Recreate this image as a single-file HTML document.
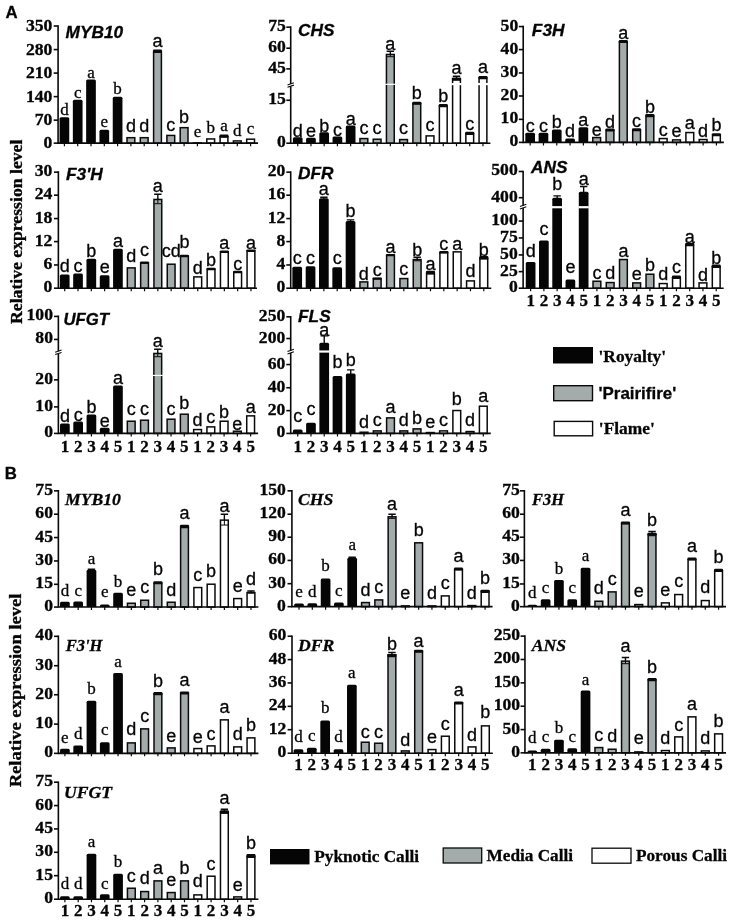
<!DOCTYPE html>
<html><head><meta charset="utf-8"><title>Figure</title>
<style>
html,body{margin:0;padding:0;background:#fff;}
svg{display:block;}
text{fill:#050505;stroke:#050505;stroke-width:.3px;}
.ls,.ln{stroke-width:.3px;}
.yl{font:bold 16.5px "Liberation Serif",serif;text-anchor:end;}
.xl{font:bold 17px "Liberation Serif",serif;text-anchor:middle;}
.ls{font:17px "Liberation Serif",serif;text-anchor:middle;}
.ln{font:18px "Liberation Sans",sans-serif;text-anchor:middle;}
.tn{font:italic bold 16px "Liberation Sans",sans-serif;}
.ts{font:italic bold 16.8px "Liberation Serif",serif;}
.pl{font:bold 16.8px "Liberation Sans",sans-serif;}
.yax{font:bold 16px "Liberation Serif",serif;}
.lgs{font:bold 17.4px "Liberation Serif",serif;}
.lgn{font:bold 17.2px "Liberation Sans",sans-serif;}
.lgb{font:bold 16.9px "Liberation Serif",serif;}
</style></head>
<body>
<svg width="731" height="920" viewBox="0 0 731 920" style="will-change:transform;filter:blur(0.45px)">
<rect width="731" height="920" fill="#fff"/>
<g id="A1">
<path d="M59.55 143.15V118.66Q59.55 117.16 61.05 117.16H67.75Q69.25 117.16 69.25 118.66V143.15Z" fill="#050505"/>
<path d="M72.85 143.15V101.14Q72.85 99.64 74.35 99.64H81.05Q82.55 99.64 82.55 101.14V143.15Z" fill="#050505"/>
<path d="M86.15 143.15V81.11Q86.15 79.61 87.65 79.61H94.35Q95.85 79.61 95.85 81.11V143.15Z" fill="#050505"/>
<path d="M99.45 143.15V131.18Q99.45 129.68 100.95 129.68H107.65Q109.15 129.68 109.15 131.18V143.15Z" fill="#050505"/>
<path d="M112.75 143.15V98.13Q112.75 96.63 114.25 96.63H120.95Q122.45 96.63 122.45 98.13V143.15Z" fill="#050505"/>
<rect x="127" y="137.69" width="7.8" height="5.46" fill="#a4acab" stroke="#0a0a0a" stroke-width="1.5"/>
<rect x="140.3" y="137.69" width="7.8" height="5.46" fill="#a4acab" stroke="#0a0a0a" stroke-width="1.5"/>
<rect x="153.6" y="52.07" width="7.8" height="91.08" fill="#a4acab" stroke="#0a0a0a" stroke-width="1.5"/>
<rect x="152.95" y="49.57" width="9.1" height="3.55" rx="1.2" fill="#0a0a0a"/>
<rect x="166.9" y="135.43" width="7.8" height="7.71" fill="#a4acab" stroke="#0a0a0a" stroke-width="1.5"/>
<rect x="180.2" y="127.67" width="7.8" height="15.47" fill="#a4acab" stroke="#0a0a0a" stroke-width="1.5"/>
<rect x="193.5" y="142.94" width="7.8" height="0.3" fill="#fff" stroke="#0a0a0a" stroke-width="1.5"/>
<rect x="206.8" y="138.94" width="7.8" height="4.21" fill="#fff" stroke="#0a0a0a" stroke-width="1.5"/>
<rect x="220.1" y="136.69" width="7.8" height="6.46" fill="#fff" stroke="#0a0a0a" stroke-width="1.5"/>
<rect x="219.45" y="134.43" width="9.1" height="3.3" rx="1.2" fill="#0a0a0a"/>
<rect x="233.4" y="140.94" width="7.8" height="2.2" fill="#fff" stroke="#0a0a0a" stroke-width="1.5"/>
<rect x="246.7" y="139.19" width="7.8" height="3.96" fill="#fff" stroke="#0a0a0a" stroke-width="1.5"/>
<path d="M58.08 25.23V143.95M57.28 143.15H258.05" stroke="#0a0a0a" stroke-width="1.6" fill="none"/>
<path d="M53.68 26.03H58.08" stroke="#0a0a0a" stroke-width="1.6"/>
<text transform="translate(52.38 31.21) scale(1.07 1)" class="yl">350</text>
<path d="M53.68 49.57H58.08" stroke="#0a0a0a" stroke-width="1.6"/>
<text transform="translate(52.38 54.74) scale(1.07 1)" class="yl">280</text>
<path d="M53.68 73.1H58.08" stroke="#0a0a0a" stroke-width="1.6"/>
<text transform="translate(52.38 78.28) scale(1.07 1)" class="yl">210</text>
<path d="M53.68 96.63H58.08" stroke="#0a0a0a" stroke-width="1.6"/>
<text transform="translate(52.38 101.81) scale(1.07 1)" class="yl">140</text>
<path d="M53.68 120.16H58.08" stroke="#0a0a0a" stroke-width="1.6"/>
<text transform="translate(52.38 125.34) scale(1.07 1)" class="yl">70</text>
<path d="M53.68 143.15H58.08" stroke="#0a0a0a" stroke-width="1.6"/>
<text transform="translate(52.38 148.32) scale(1.07 1)" class="yl">0</text>
<path d="M64.4 143.15V146.15M77.7 143.15V146.15M91 143.15V146.15M104.3 143.15V146.15M117.6 143.15V146.15M130.9 143.15V146.15M144.2 143.15V146.15M157.5 143.15V146.15M170.8 143.15V146.15M184.1 143.15V146.15M197.4 143.15V146.15M210.7 143.15V146.15M224 143.15V146.15M237.3 143.15V146.15M250.6 143.15V146.15" stroke="#0a0a0a" stroke-width="1.2" fill="none"/>
<text transform="translate(64.4 115.06) scale(1.0 1)" class="ls">d</text>
<text transform="translate(77.7 97.53) scale(1.0 1)" class="ls">c</text>
<text transform="translate(91 77.51) scale(1.0 1)" class="ls">a</text>
<text transform="translate(104.3 127.32) scale(1.0 1)" class="ls">e</text>
<text transform="translate(117.6 94.28) scale(1.0 1)" class="ls">b</text>
<text transform="translate(130.9 132.33) scale(1.0 1)" class="ln">d</text>
<text transform="translate(144.2 132.33) scale(1.0 1)" class="ln">d</text>
<text transform="translate(157.5 46.96) scale(1.0 1)" class="ln">a</text>
<text transform="translate(170.8 130.58) scale(1.0 1)" class="ln">c</text>
<text transform="translate(184.1 123.07) scale(1.0 1)" class="ln">b</text>
<text transform="translate(197.4 137.34) scale(1.0 1)" class="ls">e</text>
<text transform="translate(210.7 133.08) scale(1.0 1)" class="ls">b</text>
<text transform="translate(224 131.08) scale(1.0 1)" class="ls">a</text>
<text transform="translate(237.3 136.09) scale(1.0 1)" class="ls">d</text>
<text transform="translate(250.6 133.96) scale(1.0 1)" class="ls">c</text>
<text transform="translate(65.59 38.4) scale(1.08 1)" class="tn">MYB10</text>
</g>
<g id="A2">
<path d="M292.87 143.19V138.65Q292.87 137.15 294.37 137.15H301.07Q302.57 137.15 302.57 138.65V143.19Z" fill="#050505"/>
<path d="M306.1 143.19V139.32Q306.1 137.82 307.6 137.82H314.3Q315.8 137.82 315.8 139.32V143.19Z" fill="#050505"/>
<path d="M319.33 143.19V133.64Q319.33 132.14 320.83 132.14H327.53Q329.03 132.14 329.03 133.64V143.19Z" fill="#050505"/>
<path d="M332.56 143.19V137.98Q332.56 136.48 334.06 136.48H340.76Q342.26 136.48 342.26 137.98V143.19Z" fill="#050505"/>
<path d="M345.79 143.19V126.97Q345.79 125.47 347.29 125.47H353.99Q355.49 125.47 355.49 126.97V143.19Z" fill="#050505"/>
<rect x="359.98" y="138.57" width="7.8" height="4.62" fill="#a4acab" stroke="#0a0a0a" stroke-width="1.5"/>
<rect x="373.21" y="139.23" width="7.8" height="3.95" fill="#a4acab" stroke="#0a0a0a" stroke-width="1.5"/>
<rect x="386.44" y="54.45" width="7.8" height="88.74" fill="#a4acab" stroke="#0a0a0a" stroke-width="1.5"/>
<path d="M390.34 54.2V50.7M386.64 51.2H394.04" stroke="#0a0a0a" stroke-width="1.4" fill="none"/>
<path d="M390.34 53.7V56.7M386.64 56.7H394.04" stroke="#0a0a0a" stroke-width="1" fill="none"/>
<rect x="399.67" y="139.57" width="7.8" height="3.62" fill="#a4acab" stroke="#0a0a0a" stroke-width="1.5"/>
<rect x="412.91" y="103.52" width="7.8" height="39.67" fill="#a4acab" stroke="#0a0a0a" stroke-width="1.5"/>
<rect x="412.26" y="101.77" width="9.1" height="3.1" rx="1.2" fill="#0a0a0a"/>
<rect x="426.14" y="135.9" width="7.8" height="7.29" fill="#fff" stroke="#0a0a0a" stroke-width="1.5"/>
<rect x="439.37" y="105.85" width="7.8" height="37.33" fill="#fff" stroke="#0a0a0a" stroke-width="1.5"/>
<rect x="438.72" y="104.1" width="9.1" height="3.1" rx="1.2" fill="#0a0a0a"/>
<rect x="452.6" y="78.48" width="7.8" height="64.7" fill="#fff" stroke="#0a0a0a" stroke-width="1.5"/>
<rect x="451.95" y="77.73" width="9.1" height="3.1" rx="1.2" fill="#0a0a0a"/>
<path d="M456.5 78.23V75.73M452.8 76.23H460.2" stroke="#0a0a0a" stroke-width="1.4" fill="none"/>
<path d="M456.5 77.73V79.74M452.8 79.74H460.2" stroke="#0a0a0a" stroke-width="1" fill="none"/>
<rect x="465.84" y="133.56" width="7.8" height="9.63" fill="#fff" stroke="#0a0a0a" stroke-width="1.5"/>
<rect x="465.19" y="131.81" width="9.1" height="3.1" rx="1.2" fill="#0a0a0a"/>
<rect x="479.07" y="77.82" width="7.8" height="65.37" fill="#fff" stroke="#0a0a0a" stroke-width="1.5"/>
<rect x="478.42" y="76.06" width="9.1" height="3.1" rx="1.2" fill="#0a0a0a"/>
<rect x="385.39" y="83.71" width="9.9" height="1.2" fill="#fff"/>
<rect x="451.35" y="83.01" width="10.3" height="2.2" fill="#fff"/>
<rect x="477.82" y="83.01" width="10.3" height="2.2" fill="#fff"/>
<path d="M290.71 26.36V143.99M289.91 143.19H490.42" stroke="#0a0a0a" stroke-width="1.6" fill="none"/>
<rect x="288.71" y="83.91" width="4" height="2.4" fill="#fff"/>
<path d="M287.51 84.91L293.91 82.71M287.51 87.31L293.91 85.11" stroke="#0a0a0a" stroke-width="1.1" fill="none"/>
<path d="M286.31 27.16H290.71" stroke="#0a0a0a" stroke-width="1.6"/>
<text transform="translate(285.81 31.14) scale(1.07 1)" class="yl">75</text>
<path d="M286.31 48.19H290.71" stroke="#0a0a0a" stroke-width="1.6"/>
<text transform="translate(285.81 52.17) scale(1.07 1)" class="yl">60</text>
<path d="M286.31 68.89H290.71" stroke="#0a0a0a" stroke-width="1.6"/>
<text transform="translate(285.81 72.86) scale(1.07 1)" class="yl">45</text>
<path d="M286.31 100.26H290.71" stroke="#0a0a0a" stroke-width="1.6"/>
<text transform="translate(285.81 104.24) scale(1.07 1)" class="yl">15</text>
<path d="M286.31 143.19H290.71" stroke="#0a0a0a" stroke-width="1.6"/>
<text transform="translate(285.81 147.16) scale(1.07 1)" class="yl">0</text>
<path d="M297.72 143.19V146.19M310.95 143.19V146.19M324.18 143.19V146.19M337.41 143.19V146.19M350.64 143.19V146.19M363.88 143.19V146.19M377.11 143.19V146.19M390.34 143.19V146.19M403.57 143.19V146.19M416.81 143.19V146.19M430.04 143.19V146.19M443.27 143.19V146.19M456.5 143.19V146.19M469.74 143.19V146.19M482.97 143.19V146.19" stroke="#0a0a0a" stroke-width="1.2" fill="none"/>
<text transform="translate(297.72 136.58) scale(1.0 1)" class="ln">d</text>
<text transform="translate(310.95 136.58) scale(1.0 1)" class="ln">e</text>
<text transform="translate(324.18 131.57) scale(1.0 1)" class="ln">b</text>
<text transform="translate(337.41 135.91) scale(1.0 1)" class="ln">c</text>
<text transform="translate(350.64 124.9) scale(1.0 1)" class="ln">a</text>
<text transform="translate(363.88 133.91) scale(1.0 1)" class="ln">c</text>
<text transform="translate(377.11 133.91) scale(1.0 1)" class="ln">c</text>
<text transform="translate(390.34 50.46) scale(1.0 1)" class="ln">a</text>
<text transform="translate(403.57 134.24) scale(1.0 1)" class="ln">c</text>
<text transform="translate(416.81 98.86) scale(1.0 1)" class="ln">b</text>
<text transform="translate(430.04 131.24) scale(1.0 1)" class="ln">c</text>
<text transform="translate(443.27 102.2) scale(1.0 1)" class="ln">b</text>
<text transform="translate(456.5 74.49) scale(1.0 1)" class="ln">a</text>
<text transform="translate(469.74 129.57) scale(1.0 1)" class="ln">c</text>
<text transform="translate(482.97 73.16) scale(1.0 1)" class="ln">a</text>
<text transform="translate(298.05 35.81) scale(1.08 1)" class="tn">CHS</text>
</g>
<g id="A3">
<path d="M525.31 142.39V134.31Q525.31 132.81 526.81 132.81H533.51Q535.01 132.81 535.01 134.31V142.39Z" fill="#050505"/>
<path d="M538.61 142.39V134.31Q538.61 132.81 540.11 132.81H546.81Q548.31 132.81 548.31 134.31V142.39Z" fill="#050505"/>
<path d="M551.92 142.39V130.97Q551.92 129.47 553.42 129.47H560.12Q561.62 129.47 561.62 130.97V142.39Z" fill="#050505"/>
<path d="M565.22 142.39V139.98Q565.22 138.48 566.72 138.48H573.42Q574.92 138.48 574.92 139.98V142.39Z" fill="#050505"/>
<path d="M578.52 142.39V128.63Q578.52 127.13 580.02 127.13H586.72Q588.22 127.13 588.22 128.63V142.39Z" fill="#050505"/>
<rect x="592.78" y="137.56" width="7.8" height="4.82" fill="#a4acab" stroke="#0a0a0a" stroke-width="1.5"/>
<rect x="606.08" y="130.22" width="7.8" height="12.17" fill="#a4acab" stroke="#0a0a0a" stroke-width="1.5"/>
<rect x="605.43" y="128.47" width="9.1" height="3.1" rx="1.2" fill="#0a0a0a"/>
<rect x="619.39" y="41.77" width="7.8" height="100.62" fill="#a4acab" stroke="#0a0a0a" stroke-width="1.5"/>
<rect x="618.74" y="40.02" width="9.1" height="3.1" rx="1.2" fill="#0a0a0a"/>
<rect x="632.69" y="129.89" width="7.8" height="12.5" fill="#a4acab" stroke="#0a0a0a" stroke-width="1.5"/>
<rect x="632.04" y="128.14" width="9.1" height="3.1" rx="1.2" fill="#0a0a0a"/>
<rect x="645.99" y="116.1" width="7.8" height="26.29" fill="#a4acab" stroke="#0a0a0a" stroke-width="1.5"/>
<rect x="645.34" y="114.12" width="9.1" height="3.1" rx="1.2" fill="#0a0a0a"/>
<rect x="659.3" y="138.57" width="7.8" height="3.82" fill="#fff" stroke="#0a0a0a" stroke-width="1.5"/>
<rect x="672.6" y="139.9" width="7.8" height="2.49" fill="#fff" stroke="#0a0a0a" stroke-width="1.5"/>
<rect x="685.91" y="132.56" width="7.8" height="9.83" fill="#fff" stroke="#0a0a0a" stroke-width="1.5"/>
<rect x="699.21" y="139.57" width="7.8" height="2.82" fill="#fff" stroke="#0a0a0a" stroke-width="1.5"/>
<rect x="712.51" y="134.89" width="7.8" height="7.49" fill="#fff" stroke="#0a0a0a" stroke-width="1.5"/>
<rect x="711.86" y="133.14" width="9.1" height="3.1" rx="1.2" fill="#0a0a0a"/>
<path d="M523.22 25.76V143.19M522.42 142.39H723.86" stroke="#0a0a0a" stroke-width="1.6" fill="none"/>
<path d="M518.82 26.56H523.22" stroke="#0a0a0a" stroke-width="1.6"/>
<text transform="translate(518.22 30.54) scale(1.07 1)" class="yl">50</text>
<path d="M518.82 49.59H523.22" stroke="#0a0a0a" stroke-width="1.6"/>
<text transform="translate(518.22 53.57) scale(1.07 1)" class="yl">40</text>
<path d="M518.82 72.96H523.22" stroke="#0a0a0a" stroke-width="1.6"/>
<text transform="translate(518.22 76.94) scale(1.07 1)" class="yl">30</text>
<path d="M518.82 95.99H523.22" stroke="#0a0a0a" stroke-width="1.6"/>
<text transform="translate(518.22 99.97) scale(1.07 1)" class="yl">20</text>
<path d="M518.82 119.36H523.22" stroke="#0a0a0a" stroke-width="1.6"/>
<text transform="translate(518.22 123.33) scale(1.07 1)" class="yl">10</text>
<path d="M518.82 142.39H523.22" stroke="#0a0a0a" stroke-width="1.6"/>
<text transform="translate(518.22 146.36) scale(1.07 1)" class="yl">0</text>
<path d="M530.16 142.39V145.39M543.46 142.39V145.39M556.77 142.39V145.39M570.07 142.39V145.39M583.37 142.39V145.39M596.68 142.39V145.39M609.98 142.39V145.39M623.29 142.39V145.39M636.59 142.39V145.39M649.89 142.39V145.39M663.2 142.39V145.39M676.5 142.39V145.39M689.81 142.39V145.39M703.11 142.39V145.39M716.41 142.39V145.39" stroke="#0a0a0a" stroke-width="1.2" fill="none"/>
<text transform="translate(530.16 131.57) scale(1.0 1)" class="ln">c</text>
<text transform="translate(543.46 131.57) scale(1.0 1)" class="ln">c</text>
<text transform="translate(556.77 128.23) scale(1.0 1)" class="ln">b</text>
<text transform="translate(570.07 137.25) scale(1.0 1)" class="ln">d</text>
<text transform="translate(583.37 125.9) scale(1.0 1)" class="ln">a</text>
<text transform="translate(596.68 135.91) scale(1.0 1)" class="ln">e</text>
<text transform="translate(609.98 127.57) scale(1.0 1)" class="ln">d</text>
<text transform="translate(623.29 38.61) scale(1.0 1)" class="ln">a</text>
<text transform="translate(636.59 126.56) scale(1.0 1)" class="ln">c</text>
<text transform="translate(649.89 112.55) scale(1.0 1)" class="ln">b</text>
<text transform="translate(663.2 135.91) scale(1.0 1)" class="ln">c</text>
<text transform="translate(676.5 137.25) scale(1.0 1)" class="ln">e</text>
<text transform="translate(689.81 129.23) scale(1.0 1)" class="ln">a</text>
<text transform="translate(703.11 137.25) scale(1.0 1)" class="ln">d</text>
<text transform="translate(716.41 131.1) scale(1.0 1)" class="ln">b</text>
<text transform="translate(531.86 35.58) scale(1.08 1)" class="tn">F3H</text>
</g>
<g id="A4">
<path d="M59.86 288.19V275.97Q59.86 274.47 61.36 274.47H68.06Q69.56 274.47 69.56 275.97V288.19Z" fill="#050505"/>
<path d="M73.17 288.19V274.97Q73.17 273.47 74.67 273.47H81.37Q82.87 273.47 82.87 274.97V288.19Z" fill="#050505"/>
<path d="M86.47 288.19V260.28Q86.47 258.78 87.97 258.78H94.67Q96.17 258.78 96.17 260.28V288.19Z" fill="#050505"/>
<path d="M99.78 288.19V276.64Q99.78 275.14 101.28 275.14H107.98Q109.48 275.14 109.48 276.64V288.19Z" fill="#050505"/>
<path d="M113.08 288.19V250.27Q113.08 248.77 114.58 248.77H121.28Q122.78 248.77 122.78 250.27V288.19Z" fill="#050505"/>
<rect x="127.33" y="267.88" width="7.8" height="20.31" fill="#a4acab" stroke="#0a0a0a" stroke-width="1.5"/>
<rect x="140.64" y="262.87" width="7.8" height="25.32" fill="#a4acab" stroke="#0a0a0a" stroke-width="1.5"/>
<rect x="139.99" y="261.45" width="9.1" height="2.47" rx="1.2" fill="#0a0a0a"/>
<rect x="153.94" y="199.45" width="7.8" height="88.74" fill="#a4acab" stroke="#0a0a0a" stroke-width="1.5"/>
<path d="M157.84 199.2V193.69M154.14 194.19H161.54" stroke="#0a0a0a" stroke-width="1.4" fill="none"/>
<path d="M157.84 198.7V203.71M154.14 203.71H161.54" stroke="#0a0a0a" stroke-width="1" fill="none"/>
<rect x="167.25" y="264.21" width="7.8" height="23.98" fill="#a4acab" stroke="#0a0a0a" stroke-width="1.5"/>
<rect x="180.55" y="256.2" width="7.8" height="31.99" fill="#a4acab" stroke="#0a0a0a" stroke-width="1.5"/>
<rect x="179.9" y="254.78" width="9.1" height="2.47" rx="1.2" fill="#0a0a0a"/>
<rect x="193.85" y="276.89" width="7.8" height="11.3" fill="#fff" stroke="#0a0a0a" stroke-width="1.5"/>
<rect x="207.16" y="269.21" width="7.8" height="18.97" fill="#fff" stroke="#0a0a0a" stroke-width="1.5"/>
<rect x="206.51" y="267.8" width="9.1" height="2.47" rx="1.2" fill="#0a0a0a"/>
<rect x="220.46" y="251.86" width="7.8" height="36.33" fill="#fff" stroke="#0a0a0a" stroke-width="1.5"/>
<rect x="219.81" y="250.44" width="9.1" height="2.47" rx="1.2" fill="#0a0a0a"/>
<rect x="233.76" y="272.22" width="7.8" height="15.97" fill="#fff" stroke="#0a0a0a" stroke-width="1.5"/>
<rect x="233.11" y="270.8" width="9.1" height="2.47" rx="1.2" fill="#0a0a0a"/>
<rect x="247.07" y="250.85" width="7.8" height="37.33" fill="#fff" stroke="#0a0a0a" stroke-width="1.5"/>
<rect x="246.42" y="249.44" width="9.1" height="2.47" rx="1.2" fill="#0a0a0a"/>
<path d="M58.37 171.36V288.99M57.57 288.19H257.02" stroke="#0a0a0a" stroke-width="1.6" fill="none"/>
<path d="M53.97 172.16H58.37" stroke="#0a0a0a" stroke-width="1.6"/>
<text transform="translate(52.37 176.14) scale(1.07 1)" class="yl">30</text>
<path d="M53.97 195.19H58.37" stroke="#0a0a0a" stroke-width="1.6"/>
<text transform="translate(52.37 199.17) scale(1.07 1)" class="yl">24</text>
<path d="M53.97 218.56H58.37" stroke="#0a0a0a" stroke-width="1.6"/>
<text transform="translate(52.37 222.54) scale(1.07 1)" class="yl">18</text>
<path d="M53.97 241.59H58.37" stroke="#0a0a0a" stroke-width="1.6"/>
<text transform="translate(52.37 245.57) scale(1.07 1)" class="yl">12</text>
<path d="M53.97 264.96H58.37" stroke="#0a0a0a" stroke-width="1.6"/>
<text transform="translate(52.37 268.93) scale(1.07 1)" class="yl">6</text>
<path d="M53.97 288.19H58.37" stroke="#0a0a0a" stroke-width="1.6"/>
<text transform="translate(52.37 292.16) scale(1.07 1)" class="yl">0</text>
<path d="M64.71 288.19V291.19M78.02 288.19V291.19M91.32 288.19V291.19M104.63 288.19V291.19M117.93 288.19V291.19M131.23 288.19V291.19M144.54 288.19V291.19M157.84 288.19V291.19M171.15 288.19V291.19M184.45 288.19V291.19M197.75 288.19V291.19M211.06 288.19V291.19M224.36 288.19V291.19M237.66 288.19V291.19M250.97 288.19V291.19" stroke="#0a0a0a" stroke-width="1.2" fill="none"/>
<text transform="translate(64.71 272.23) scale(1.0 1)" class="ln">d</text>
<text transform="translate(78.02 272.23) scale(1.0 1)" class="ln">c</text>
<text transform="translate(91.32 256.54) scale(1.0 1)" class="ln">b</text>
<text transform="translate(104.63 273.23) scale(1.0 1)" class="ln">e</text>
<text transform="translate(117.93 246.53) scale(1.0 1)" class="ln">a</text>
<text transform="translate(131.23 261.55) scale(1.0 1)" class="ln">d</text>
<text transform="translate(144.54 255.54) scale(1.0 1)" class="ln">c</text>
<text transform="translate(157.84 191.79) scale(1.0 1)" class="ln">a</text>
<text transform="translate(171.15 256.54) scale(1.0 1)" class="ln">cd</text>
<text transform="translate(184.45 248.2) scale(1.0 1)" class="ln">b</text>
<text transform="translate(197.75 274.23) scale(1.0 1)" class="ln">d</text>
<text transform="translate(211.06 265.56) scale(1.0 1)" class="ln">b</text>
<text transform="translate(224.36 249) scale(1.0 1)" class="ln">a</text>
<text transform="translate(237.66 269.9) scale(1.0 1)" class="ln">c</text>
<text transform="translate(250.97 249) scale(1.0 1)" class="ln">a</text>
<text transform="translate(66.05 180.07) scale(1.08 1)" class="tn">F3&#39;H</text>
</g>
<g id="A5">
<path d="M292.36 288.19V268.29Q292.36 266.79 293.86 266.79H300.56Q302.06 266.79 302.06 268.29V288.19Z" fill="#050505"/>
<path d="M305.69 288.19V267.63Q305.69 266.13 307.19 266.13H313.89Q315.39 266.13 315.39 267.63V288.19Z" fill="#050505"/>
<path d="M319.02 288.19V199.87Q319.02 198.37 320.52 198.37H327.22Q328.72 198.37 328.72 199.87V288.19Z" fill="#050505"/>
<path d="M323.87 198.87V196.7M320.17 197.2H327.57" stroke="#0a0a0a" stroke-width="1.4" fill="none"/>
<path d="M332.35 288.19V268.63Q332.35 267.13 333.85 267.13H340.55Q342.05 267.13 342.05 268.63V288.19Z" fill="#050505"/>
<path d="M345.68 288.19V222.56Q345.68 221.06 347.18 221.06H353.88Q355.38 221.06 355.38 222.56V288.19Z" fill="#050505"/>
<path d="M350.53 221.56V219.4M346.83 219.9H354.23" stroke="#0a0a0a" stroke-width="1.4" fill="none"/>
<rect x="359.95" y="281.9" width="7.8" height="6.29" fill="#a4acab" stroke="#0a0a0a" stroke-width="1.5"/>
<rect x="373.28" y="278.56" width="7.8" height="9.63" fill="#a4acab" stroke="#0a0a0a" stroke-width="1.5"/>
<rect x="372.63" y="277.48" width="9.1" height="2.2" rx="1.2" fill="#0a0a0a"/>
<rect x="386.61" y="255.19" width="7.8" height="32.99" fill="#a4acab" stroke="#0a0a0a" stroke-width="1.5"/>
<rect x="385.96" y="254.11" width="9.1" height="2.2" rx="1.2" fill="#0a0a0a"/>
<rect x="399.94" y="278.56" width="7.8" height="9.63" fill="#a4acab" stroke="#0a0a0a" stroke-width="1.5"/>
<rect x="413.26" y="259.53" width="7.8" height="28.65" fill="#a4acab" stroke="#0a0a0a" stroke-width="1.5"/>
<path d="M417.16 259.28V256.78M413.46 257.28H420.86" stroke="#0a0a0a" stroke-width="1.4" fill="none"/>
<path d="M417.16 258.78V260.79M413.46 260.79H420.86" stroke="#0a0a0a" stroke-width="1" fill="none"/>
<rect x="426.59" y="273.55" width="7.8" height="14.64" fill="#fff" stroke="#0a0a0a" stroke-width="1.5"/>
<rect x="425.94" y="270.8" width="9.1" height="3.8" rx="1.2" fill="#0a0a0a"/>
<rect x="439.92" y="252.52" width="7.8" height="35.66" fill="#fff" stroke="#0a0a0a" stroke-width="1.5"/>
<rect x="439.27" y="251.11" width="9.1" height="2.47" rx="1.2" fill="#0a0a0a"/>
<rect x="453.25" y="251.86" width="7.8" height="36.33" fill="#fff" stroke="#0a0a0a" stroke-width="1.5"/>
<rect x="466.58" y="280.9" width="7.8" height="7.29" fill="#fff" stroke="#0a0a0a" stroke-width="1.5"/>
<rect x="479.9" y="258.53" width="7.8" height="29.66" fill="#fff" stroke="#0a0a0a" stroke-width="1.5"/>
<rect x="479.25" y="256.11" width="9.1" height="3.47" rx="1.2" fill="#0a0a0a"/>
<path d="M290.71 171.36V288.99M289.91 288.19H491.25" stroke="#0a0a0a" stroke-width="1.6" fill="none"/>
<path d="M286.31 172.16H290.71" stroke="#0a0a0a" stroke-width="1.6"/>
<text transform="translate(285.31 176.14) scale(1.07 1)" class="yl">20</text>
<path d="M286.31 195.19H290.71" stroke="#0a0a0a" stroke-width="1.6"/>
<text transform="translate(285.31 199.17) scale(1.07 1)" class="yl">16</text>
<path d="M286.31 218.56H290.71" stroke="#0a0a0a" stroke-width="1.6"/>
<text transform="translate(285.31 222.54) scale(1.07 1)" class="yl">12</text>
<path d="M286.31 241.59H290.71" stroke="#0a0a0a" stroke-width="1.6"/>
<text transform="translate(285.31 245.57) scale(1.07 1)" class="yl">8</text>
<path d="M286.31 264.96H290.71" stroke="#0a0a0a" stroke-width="1.6"/>
<text transform="translate(285.31 268.93) scale(1.07 1)" class="yl">4</text>
<path d="M286.31 288.19H290.71" stroke="#0a0a0a" stroke-width="1.6"/>
<text transform="translate(285.31 292.16) scale(1.07 1)" class="yl">0</text>
<path d="M297.21 288.19V291.19M310.54 288.19V291.19M323.87 288.19V291.19M337.2 288.19V291.19M350.53 288.19V291.19M363.85 288.19V291.19M377.18 288.19V291.19M390.51 288.19V291.19M403.84 288.19V291.19M417.16 288.19V291.19M430.49 288.19V291.19M443.82 288.19V291.19M457.15 288.19V291.19M470.48 288.19V291.19M483.8 288.19V291.19" stroke="#0a0a0a" stroke-width="1.2" fill="none"/>
<text transform="translate(297.21 264.22) scale(1.0 1)" class="ln">c</text>
<text transform="translate(310.54 264.22) scale(1.0 1)" class="ln">c</text>
<text transform="translate(323.87 195.46) scale(1.0 1)" class="ln">a</text>
<text transform="translate(337.2 264.22) scale(1.0 1)" class="ln">c</text>
<text transform="translate(350.53 217.49) scale(1.0 1)" class="ln">b</text>
<text transform="translate(363.85 279.91) scale(1.0 1)" class="ln">d</text>
<text transform="translate(377.18 275.57) scale(1.0 1)" class="ln">c</text>
<text transform="translate(390.51 253.21) scale(1.0 1)" class="ln">a</text>
<text transform="translate(403.84 274.9) scale(1.0 1)" class="ln">c</text>
<text transform="translate(417.16 255.54) scale(1.0 1)" class="ln">b</text>
<text transform="translate(430.49 269.73) scale(1.0 1)" class="ln">a</text>
<text transform="translate(443.82 249.87) scale(1.0 1)" class="ln">c</text>
<text transform="translate(457.15 249.53) scale(1.0 1)" class="ln">a</text>
<text transform="translate(470.48 277.41) scale(1.0 1)" class="ln">d</text>
<text transform="translate(483.8 255.54) scale(1.0 1)" class="ln">b</text>
<text transform="translate(298.05 178.97) scale(1.08 1)" class="tn">DFR</text>
</g>
<g id="A6">
<path d="M525.78 288.19V263.62Q525.78 262.12 527.28 262.12H533.98Q535.48 262.12 535.48 263.62V288.19Z" fill="#050505"/>
<path d="M539.03 288.19V241.92Q539.03 240.42 540.53 240.42H547.23Q548.73 240.42 548.73 241.92V288.19Z" fill="#050505"/>
<path d="M552.29 288.19V199.2Q552.29 197.7 553.79 197.7H560.49Q561.99 197.7 561.99 199.2V288.19Z" fill="#050505"/>
<path d="M557.14 198.2V195.36M553.44 195.86H560.84" stroke="#0a0a0a" stroke-width="1.4" fill="none"/>
<path d="M565.54 288.19V280.98Q565.54 279.48 567.04 279.48H573.74Q575.24 279.48 575.24 280.98V288.19Z" fill="#050505"/>
<path d="M578.8 288.19V193.19Q578.8 191.69 580.3 191.69H587Q588.5 191.69 588.5 193.19V288.19Z" fill="#050505"/>
<path d="M583.65 192.19V186.02M579.95 186.52H587.35" stroke="#0a0a0a" stroke-width="1.4" fill="none"/>
<rect x="593.01" y="281.23" width="7.8" height="6.96" fill="#a4acab" stroke="#0a0a0a" stroke-width="1.5"/>
<rect x="606.26" y="282.56" width="7.8" height="5.62" fill="#a4acab" stroke="#0a0a0a" stroke-width="1.5"/>
<rect x="619.52" y="259.53" width="7.8" height="28.65" fill="#a4acab" stroke="#0a0a0a" stroke-width="1.5"/>
<rect x="632.78" y="282.9" width="7.8" height="5.29" fill="#a4acab" stroke="#0a0a0a" stroke-width="1.5"/>
<rect x="646.03" y="274.22" width="7.8" height="13.97" fill="#a4acab" stroke="#0a0a0a" stroke-width="1.5"/>
<rect x="659.29" y="283.57" width="7.8" height="4.62" fill="#fff" stroke="#0a0a0a" stroke-width="1.5"/>
<rect x="672.54" y="277.89" width="7.8" height="10.3" fill="#fff" stroke="#0a0a0a" stroke-width="1.5"/>
<rect x="671.89" y="275.47" width="9.1" height="3.47" rx="1.2" fill="#0a0a0a"/>
<rect x="685.8" y="245.18" width="7.8" height="43.01" fill="#fff" stroke="#0a0a0a" stroke-width="1.5"/>
<rect x="685.15" y="242.76" width="9.1" height="3.47" rx="1.2" fill="#0a0a0a"/>
<rect x="699.06" y="282.9" width="7.8" height="5.29" fill="#fff" stroke="#0a0a0a" stroke-width="1.5"/>
<rect x="712.31" y="266.88" width="7.8" height="21.31" fill="#fff" stroke="#0a0a0a" stroke-width="1.5"/>
<rect x="711.66" y="264.46" width="9.1" height="3.47" rx="1.2" fill="#0a0a0a"/>
<rect x="551.99" y="206.11" width="10.3" height="2.2" fill="#fff"/>
<rect x="578.5" y="206.11" width="10.3" height="2.2" fill="#fff"/>
<path d="M523.12 170.69V288.99M522.32 288.19H723.66" stroke="#0a0a0a" stroke-width="1.6" fill="none"/>
<rect x="521.12" y="205.54" width="4" height="2.4" fill="#fff"/>
<path d="M519.92 206.54L526.32 204.34M519.92 208.94L526.32 206.74" stroke="#0a0a0a" stroke-width="1.1" fill="none"/>
<path d="M518.72 171.49H523.12" stroke="#0a0a0a" stroke-width="1.6"/>
<text transform="translate(517.72 175.47) scale(1.07 1)" class="yl">500</text>
<path d="M518.72 197.7H523.12" stroke="#0a0a0a" stroke-width="1.6"/>
<text transform="translate(517.72 201.67) scale(1.07 1)" class="yl">400</text>
<path d="M518.72 221.06H523.12" stroke="#0a0a0a" stroke-width="1.6"/>
<text transform="translate(517.72 225.04) scale(1.07 1)" class="yl">100</text>
<path d="M518.72 237.92H523.12" stroke="#0a0a0a" stroke-width="1.6"/>
<text transform="translate(517.72 241.9) scale(1.07 1)" class="yl">75</text>
<path d="M518.72 254.94H523.12" stroke="#0a0a0a" stroke-width="1.6"/>
<text transform="translate(517.72 258.92) scale(1.07 1)" class="yl">50</text>
<path d="M518.72 271.63H523.12" stroke="#0a0a0a" stroke-width="1.6"/>
<text transform="translate(517.72 275.61) scale(1.07 1)" class="yl">25</text>
<path d="M518.72 288.19H523.12" stroke="#0a0a0a" stroke-width="1.6"/>
<text transform="translate(517.72 292.16) scale(1.07 1)" class="yl">0</text>
<path d="M530.63 288.19V291.19M543.88 288.19V291.19M557.14 288.19V291.19M570.39 288.19V291.19M583.65 288.19V291.19M596.91 288.19V291.19M610.16 288.19V291.19M623.42 288.19V291.19M636.68 288.19V291.19M649.93 288.19V291.19M663.19 288.19V291.19M676.44 288.19V291.19M689.7 288.19V291.19M702.96 288.19V291.19M716.21 288.19V291.19" stroke="#0a0a0a" stroke-width="1.2" fill="none"/>
<text transform="translate(530.63 305.55) scale(1.0 1)" class="xl">1</text>
<text transform="translate(543.88 305.55) scale(1.0 1)" class="xl">2</text>
<text transform="translate(557.14 305.55) scale(1.0 1)" class="xl">3</text>
<text transform="translate(570.39 305.55) scale(1.0 1)" class="xl">4</text>
<text transform="translate(583.65 305.55) scale(1.0 1)" class="xl">5</text>
<text transform="translate(596.91 305.55) scale(1.0 1)" class="xl">1</text>
<text transform="translate(610.16 305.55) scale(1.0 1)" class="xl">2</text>
<text transform="translate(623.42 305.55) scale(1.0 1)" class="xl">3</text>
<text transform="translate(636.68 305.55) scale(1.0 1)" class="xl">4</text>
<text transform="translate(649.93 305.55) scale(1.0 1)" class="xl">5</text>
<text transform="translate(663.19 305.55) scale(1.0 1)" class="xl">1</text>
<text transform="translate(676.44 305.55) scale(1.0 1)" class="xl">2</text>
<text transform="translate(689.7 305.55) scale(1.0 1)" class="xl">3</text>
<text transform="translate(702.96 305.55) scale(1.0 1)" class="xl">4</text>
<text transform="translate(716.21 305.55) scale(1.0 1)" class="xl">5</text>
<text transform="translate(530.63 256.54) scale(1.0 1)" class="ln">d</text>
<text transform="translate(543.88 234.85) scale(1.0 1)" class="ln">c</text>
<text transform="translate(557.14 189.79) scale(1.0 1)" class="ln">b</text>
<text transform="translate(570.39 273.23) scale(1.0 1)" class="ln">e</text>
<text transform="translate(583.65 184.78) scale(1.0 1)" class="ln">a</text>
<text transform="translate(596.91 278.91) scale(1.0 1)" class="ln">c</text>
<text transform="translate(610.16 278.57) scale(1.0 1)" class="ln">d</text>
<text transform="translate(623.42 256.71) scale(1.0 1)" class="ln">a</text>
<text transform="translate(636.68 279.91) scale(1.0 1)" class="ln">e</text>
<text transform="translate(649.93 270.56) scale(1.0 1)" class="ln">b</text>
<text transform="translate(663.19 279.91) scale(1.0 1)" class="ln">d</text>
<text transform="translate(676.44 273.23) scale(1.0 1)" class="ln">c</text>
<text transform="translate(689.7 242.52) scale(1.0 1)" class="ln">a</text>
<text transform="translate(702.96 280.91) scale(1.0 1)" class="ln">d</text>
<text transform="translate(716.21 264.05) scale(1.0 1)" class="ln">b</text>
<text transform="translate(531.06 173.37) scale(1.08 1)" class="tn">ANS</text>
</g>
<g id="A7">
<path d="M60.03 433.42V424.97Q60.03 423.47 61.53 423.47H68.23Q69.73 423.47 69.73 424.97V433.42Z" fill="#050505"/>
<path d="M73.3 433.42V422.97Q73.3 421.47 74.8 421.47H81.5Q83 421.47 83 422.97V433.42Z" fill="#050505"/>
<path d="M86.57 433.42V415.96Q86.57 414.46 88.07 414.46H94.77Q96.27 414.46 96.27 415.96V433.42Z" fill="#050505"/>
<path d="M99.84 433.42V429.31Q99.84 427.81 101.34 427.81H108.04Q109.54 427.81 109.54 429.31V433.42Z" fill="#050505"/>
<path d="M113.1 433.42V386.92Q113.1 385.42 114.6 385.42H121.3Q122.8 385.42 122.8 386.92V433.42Z" fill="#050505"/>
<rect x="127.32" y="421.22" width="7.8" height="12.2" fill="#a4acab" stroke="#0a0a0a" stroke-width="1.5"/>
<rect x="140.59" y="420.21" width="7.8" height="13.2" fill="#a4acab" stroke="#0a0a0a" stroke-width="1.5"/>
<rect x="153.86" y="353.46" width="7.8" height="79.96" fill="#a4acab" stroke="#0a0a0a" stroke-width="1.5"/>
<path d="M157.76 353.21V348.7M154.06 349.2H161.46" stroke="#0a0a0a" stroke-width="1.4" fill="none"/>
<path d="M157.76 352.71V356.71M154.06 356.71H161.46" stroke="#0a0a0a" stroke-width="1" fill="none"/>
<rect x="167.13" y="419.21" width="7.8" height="14.2" fill="#a4acab" stroke="#0a0a0a" stroke-width="1.5"/>
<rect x="180.39" y="414.21" width="7.8" height="19.21" fill="#a4acab" stroke="#0a0a0a" stroke-width="1.5"/>
<rect x="193.66" y="429.56" width="7.8" height="3.86" fill="#fff" stroke="#0a0a0a" stroke-width="1.5"/>
<rect x="206.93" y="426.89" width="7.8" height="6.53" fill="#fff" stroke="#0a0a0a" stroke-width="1.5"/>
<rect x="220.2" y="421.22" width="7.8" height="12.2" fill="#fff" stroke="#0a0a0a" stroke-width="1.5"/>
<rect x="233.47" y="431.23" width="7.8" height="2.19" fill="#fff" stroke="#0a0a0a" stroke-width="1.5"/>
<rect x="246.73" y="415.87" width="7.8" height="17.54" fill="#fff" stroke="#0a0a0a" stroke-width="1.5"/>
<rect x="152.81" y="374.84" width="9.9" height="1.2" fill="#fff"/>
<path d="M58.37 315.62V434.22M57.57 433.42H258.08" stroke="#0a0a0a" stroke-width="1.6" fill="none"/>
<rect x="56.37" y="351.2" width="4" height="2.4" fill="#fff"/>
<path d="M55.17 352.2L61.57 350M55.17 354.6L61.57 352.4" stroke="#0a0a0a" stroke-width="1.1" fill="none"/>
<path d="M53.97 316.42H58.37" stroke="#0a0a0a" stroke-width="1.6"/>
<text transform="translate(52.97 320.4) scale(1.07 1)" class="yl">100</text>
<path d="M53.97 339.45H58.37" stroke="#0a0a0a" stroke-width="1.6"/>
<text transform="translate(52.97 343.43) scale(1.07 1)" class="yl">80</text>
<path d="M53.97 379.84H58.37" stroke="#0a0a0a" stroke-width="1.6"/>
<text transform="translate(52.97 383.82) scale(1.07 1)" class="yl">20</text>
<path d="M53.97 406.88H58.37" stroke="#0a0a0a" stroke-width="1.6"/>
<text transform="translate(52.97 410.86) scale(1.07 1)" class="yl">10</text>
<path d="M53.97 433.42H58.37" stroke="#0a0a0a" stroke-width="1.6"/>
<text transform="translate(52.97 437.39) scale(1.07 1)" class="yl">0</text>
<path d="M64.88 433.42V436.42M78.15 433.42V436.42M91.42 433.42V436.42M104.69 433.42V436.42M117.95 433.42V436.42M131.22 433.42V436.42M144.49 433.42V436.42M157.76 433.42V436.42M171.03 433.42V436.42M184.29 433.42V436.42M197.56 433.42V436.42M210.83 433.42V436.42M224.1 433.42V436.42M237.37 433.42V436.42M250.63 433.42V436.42" stroke="#0a0a0a" stroke-width="1.2" fill="none"/>
<text transform="translate(64.88 451.55) scale(1.0 1)" class="xl">1</text>
<text transform="translate(78.15 451.55) scale(1.0 1)" class="xl">2</text>
<text transform="translate(91.42 451.55) scale(1.0 1)" class="xl">3</text>
<text transform="translate(104.69 451.55) scale(1.0 1)" class="xl">4</text>
<text transform="translate(117.95 451.55) scale(1.0 1)" class="xl">5</text>
<text transform="translate(131.22 451.55) scale(1.0 1)" class="xl">1</text>
<text transform="translate(144.49 451.55) scale(1.0 1)" class="xl">2</text>
<text transform="translate(157.76 451.55) scale(1.0 1)" class="xl">3</text>
<text transform="translate(171.03 451.55) scale(1.0 1)" class="xl">4</text>
<text transform="translate(184.29 451.55) scale(1.0 1)" class="xl">5</text>
<text transform="translate(197.56 451.55) scale(1.0 1)" class="xl">1</text>
<text transform="translate(210.83 451.55) scale(1.0 1)" class="xl">2</text>
<text transform="translate(224.1 451.55) scale(1.0 1)" class="xl">3</text>
<text transform="translate(237.37 451.55) scale(1.0 1)" class="xl">4</text>
<text transform="translate(250.63 451.55) scale(1.0 1)" class="xl">5</text>
<text transform="translate(64.88 421.56) scale(1.0 1)" class="ln">d</text>
<text transform="translate(78.15 420.56) scale(1.0 1)" class="ln">c</text>
<text transform="translate(91.42 413.22) scale(1.0 1)" class="ln">b</text>
<text transform="translate(104.69 426.57) scale(1.0 1)" class="ln">e</text>
<text transform="translate(117.95 384.18) scale(1.0 1)" class="ln">a</text>
<text transform="translate(131.22 414.89) scale(1.0 1)" class="ln">c</text>
<text transform="translate(144.49 414.89) scale(1.0 1)" class="ln">c</text>
<text transform="translate(157.76 347.46) scale(1.0 1)" class="ln">a</text>
<text transform="translate(171.03 414.89) scale(1.0 1)" class="ln">c</text>
<text transform="translate(184.29 408.88) scale(1.0 1)" class="ln">b</text>
<text transform="translate(197.56 425.57) scale(1.0 1)" class="ln">d</text>
<text transform="translate(210.83 423.23) scale(1.0 1)" class="ln">c</text>
<text transform="translate(224.1 418.23) scale(1.0 1)" class="ln">b</text>
<text transform="translate(237.37 429.91) scale(1.0 1)" class="ln">e</text>
<text transform="translate(250.63 413.22) scale(1.0 1)" class="ln">a</text>
<text transform="translate(63.45 324.63) scale(1.045 1)" class="tn">UFGT</text>
</g>
<g id="A8">
<path d="M292.87 433.42V430.98Q292.87 429.48 294.37 429.48H301.07Q302.57 429.48 302.57 430.98V433.42Z" fill="#050505"/>
<path d="M306.12 433.42V424.3Q306.12 422.8 307.62 422.8H314.32Q315.82 422.8 315.82 424.3V433.42Z" fill="#050505"/>
<path d="M319.38 433.42V344.19Q319.38 342.69 320.88 342.69H327.58Q329.08 342.69 329.08 344.19V433.42Z" fill="#050505"/>
<path d="M324.23 343.19V335.35M320.53 335.85H327.93" stroke="#0a0a0a" stroke-width="1.4" fill="none"/>
<path d="M332.63 433.42V377.57Q332.63 376.07 334.13 376.07H340.83Q342.33 376.07 342.33 377.57V433.42Z" fill="#050505"/>
<path d="M345.89 433.42V374.9Q345.89 373.4 347.39 373.4H354.09Q355.59 373.4 355.59 374.9V433.42Z" fill="#050505"/>
<path d="M350.74 373.9V369.4M347.04 369.9H354.44" stroke="#0a0a0a" stroke-width="1.4" fill="none"/>
<rect x="360.1" y="432.23" width="7.8" height="1.19" fill="#a4acab" stroke="#0a0a0a" stroke-width="1.5"/>
<rect x="373.35" y="430.9" width="7.8" height="2.52" fill="#a4acab" stroke="#0a0a0a" stroke-width="1.5"/>
<rect x="386.61" y="417.88" width="7.8" height="15.54" fill="#a4acab" stroke="#0a0a0a" stroke-width="1.5"/>
<rect x="399.87" y="430.9" width="7.8" height="2.52" fill="#a4acab" stroke="#0a0a0a" stroke-width="1.5"/>
<rect x="413.12" y="428.89" width="7.8" height="4.52" fill="#a4acab" stroke="#0a0a0a" stroke-width="1.5"/>
<rect x="426.38" y="432.56" width="7.8" height="0.85" fill="#fff" stroke="#0a0a0a" stroke-width="1.5"/>
<rect x="439.63" y="430.9" width="7.8" height="2.52" fill="#fff" stroke="#0a0a0a" stroke-width="1.5"/>
<rect x="452.89" y="410.53" width="7.8" height="22.88" fill="#fff" stroke="#0a0a0a" stroke-width="1.5"/>
<rect x="466.15" y="431.56" width="7.8" height="1.85" fill="#fff" stroke="#0a0a0a" stroke-width="1.5"/>
<rect x="479.4" y="406.2" width="7.8" height="27.22" fill="#fff" stroke="#0a0a0a" stroke-width="1.5"/>
<rect x="319.08" y="350.44" width="10.3" height="2.2" fill="#fff"/>
<path d="M290.71 316.02V434.22M289.91 433.42H490.75" stroke="#0a0a0a" stroke-width="1.6" fill="none"/>
<rect x="288.71" y="350.54" width="4" height="2.4" fill="#fff"/>
<path d="M287.51 351.54L293.91 349.34M287.51 353.94L293.91 351.74" stroke="#0a0a0a" stroke-width="1.1" fill="none"/>
<path d="M286.31 316.82H290.71" stroke="#0a0a0a" stroke-width="1.6"/>
<text transform="translate(285.31 320.8) scale(1.07 1)" class="yl">250</text>
<path d="M286.31 338.52H290.71" stroke="#0a0a0a" stroke-width="1.6"/>
<text transform="translate(285.31 342.5) scale(1.07 1)" class="yl">200</text>
<path d="M286.31 364.55H290.71" stroke="#0a0a0a" stroke-width="1.6"/>
<text transform="translate(285.31 368.53) scale(1.07 1)" class="yl">60</text>
<path d="M286.31 387.75H290.71" stroke="#0a0a0a" stroke-width="1.6"/>
<text transform="translate(285.31 391.73) scale(1.07 1)" class="yl">40</text>
<path d="M286.31 410.62H290.71" stroke="#0a0a0a" stroke-width="1.6"/>
<text transform="translate(285.31 414.59) scale(1.07 1)" class="yl">20</text>
<path d="M286.31 433.42H290.71" stroke="#0a0a0a" stroke-width="1.6"/>
<text transform="translate(285.31 437.39) scale(1.07 1)" class="yl">0</text>
<path d="M297.72 433.42V436.42M310.97 433.42V436.42M324.23 433.42V436.42M337.48 433.42V436.42M350.74 433.42V436.42M364 433.42V436.42M377.25 433.42V436.42M390.51 433.42V436.42M403.77 433.42V436.42M417.02 433.42V436.42M430.28 433.42V436.42M443.53 433.42V436.42M456.79 433.42V436.42M470.05 433.42V436.42M483.3 433.42V436.42" stroke="#0a0a0a" stroke-width="1.2" fill="none"/>
<text transform="translate(297.72 451.55) scale(1.0 1)" class="xl">1</text>
<text transform="translate(310.97 451.55) scale(1.0 1)" class="xl">2</text>
<text transform="translate(324.23 451.55) scale(1.0 1)" class="xl">3</text>
<text transform="translate(337.48 451.55) scale(1.0 1)" class="xl">4</text>
<text transform="translate(350.74 451.55) scale(1.0 1)" class="xl">5</text>
<text transform="translate(364 451.55) scale(1.0 1)" class="xl">1</text>
<text transform="translate(377.25 451.55) scale(1.0 1)" class="xl">2</text>
<text transform="translate(390.51 451.55) scale(1.0 1)" class="xl">3</text>
<text transform="translate(403.77 451.55) scale(1.0 1)" class="xl">4</text>
<text transform="translate(417.02 451.55) scale(1.0 1)" class="xl">5</text>
<text transform="translate(430.28 451.55) scale(1.0 1)" class="xl">1</text>
<text transform="translate(443.53 451.55) scale(1.0 1)" class="xl">2</text>
<text transform="translate(456.79 451.55) scale(1.0 1)" class="xl">3</text>
<text transform="translate(470.05 451.55) scale(1.0 1)" class="xl">4</text>
<text transform="translate(483.3 451.55) scale(1.0 1)" class="xl">5</text>
<text transform="translate(297.72 422.23) scale(1.0 1)" class="ln">c</text>
<text transform="translate(310.97 414.89) scale(1.0 1)" class="ln">c</text>
<text transform="translate(324.23 336.45) scale(1.0 1)" class="ln">a</text>
<text transform="translate(337.48 368.16) scale(1.0 1)" class="ln">b</text>
<text transform="translate(350.74 366.49) scale(1.0 1)" class="ln">b</text>
<text transform="translate(364 427.91) scale(1.0 1)" class="ln">d</text>
<text transform="translate(377.25 426.4) scale(1.0 1)" class="ln">c</text>
<text transform="translate(390.51 413.22) scale(1.0 1)" class="ln">a</text>
<text transform="translate(403.77 426.4) scale(1.0 1)" class="ln">d</text>
<text transform="translate(417.02 423.9) scale(1.0 1)" class="ln">b</text>
<text transform="translate(430.28 427.91) scale(1.0 1)" class="ln">e</text>
<text transform="translate(443.53 426.4) scale(1.0 1)" class="ln">c</text>
<text transform="translate(456.79 404.87) scale(1.0 1)" class="ln">b</text>
<text transform="translate(470.05 426.24) scale(1.0 1)" class="ln">d</text>
<text transform="translate(483.3 402.2) scale(1.0 1)" class="ln">a</text>
<text transform="translate(298.05 322.3) scale(1.08 1)" class="tn">FLS</text>
</g>
<g id="B1">
<path d="M60.03 607.06V603.32Q60.03 601.82 61.53 601.82H68.23Q69.73 601.82 69.73 603.32V607.06Z" fill="#050505"/>
<path d="M73.32 607.06V602.99Q73.32 601.49 74.82 601.49H81.52Q83.02 601.49 83.02 602.99V607.06Z" fill="#050505"/>
<path d="M86.61 607.06V571.28Q86.61 569.78 88.11 569.78H94.81Q96.31 569.78 96.31 571.28V607.06Z" fill="#050505"/>
<path d="M91.46 570.28V568.78M87.76 569.28H95.16" stroke="#0a0a0a" stroke-width="1.4" fill="none"/>
<path d="M99.91 607.06V605.99Q99.91 604.49 101.41 604.49H108.11Q109.61 604.49 109.61 605.99V607.06Z" fill="#050505"/>
<path d="M113.2 607.06V594.31Q113.2 592.81 114.7 592.81H121.4Q122.9 592.81 122.9 594.31V607.06Z" fill="#050505"/>
<rect x="127.44" y="603.24" width="7.8" height="3.82" fill="#a4acab" stroke="#0a0a0a" stroke-width="1.5"/>
<rect x="140.73" y="600.23" width="7.8" height="6.83" fill="#a4acab" stroke="#0a0a0a" stroke-width="1.5"/>
<rect x="154.02" y="583.21" width="7.8" height="23.85" fill="#a4acab" stroke="#0a0a0a" stroke-width="1.5"/>
<rect x="153.37" y="581.13" width="9.1" height="3.14" rx="1.2" fill="#0a0a0a"/>
<rect x="167.32" y="602.24" width="7.8" height="4.82" fill="#a4acab" stroke="#0a0a0a" stroke-width="1.5"/>
<rect x="180.61" y="527.13" width="7.8" height="79.93" fill="#a4acab" stroke="#0a0a0a" stroke-width="1.5"/>
<rect x="179.96" y="524.72" width="9.1" height="3.47" rx="1.2" fill="#0a0a0a"/>
<rect x="193.9" y="587.55" width="7.8" height="19.51" fill="#fff" stroke="#0a0a0a" stroke-width="1.5"/>
<rect x="207.19" y="584.21" width="7.8" height="22.85" fill="#fff" stroke="#0a0a0a" stroke-width="1.5"/>
<rect x="220.48" y="520.13" width="7.8" height="86.94" fill="#fff" stroke="#0a0a0a" stroke-width="1.5"/>
<path d="M224.38 519.88V513.7M220.68 514.2H228.08" stroke="#0a0a0a" stroke-width="1.4" fill="none"/>
<path d="M224.38 519.38V525.05M220.68 525.05H228.08" stroke="#0a0a0a" stroke-width="1" fill="none"/>
<rect x="233.78" y="598.57" width="7.8" height="8.49" fill="#fff" stroke="#0a0a0a" stroke-width="1.5"/>
<rect x="247.07" y="592.56" width="7.8" height="14.5" fill="#fff" stroke="#0a0a0a" stroke-width="1.5"/>
<path d="M250.97 592.31V590.47M247.27 590.97H254.67" stroke="#0a0a0a" stroke-width="1.4" fill="none"/>
<path d="M250.97 591.81V593.14M247.27 593.14H254.67" stroke="#0a0a0a" stroke-width="1" fill="none"/>
<path d="M58.37 490.03V607.86M57.57 607.06H258.42" stroke="#0a0a0a" stroke-width="1.6" fill="none"/>
<path d="M53.97 490.83H58.37" stroke="#0a0a0a" stroke-width="1.6"/>
<text transform="translate(52.97 494.81) scale(1.07 1)" class="yl">75</text>
<path d="M53.97 514.2H58.37" stroke="#0a0a0a" stroke-width="1.6"/>
<text transform="translate(52.97 518.18) scale(1.07 1)" class="yl">60</text>
<path d="M53.97 537.56H58.37" stroke="#0a0a0a" stroke-width="1.6"/>
<text transform="translate(52.97 541.54) scale(1.07 1)" class="yl">45</text>
<path d="M53.97 560.93H58.37" stroke="#0a0a0a" stroke-width="1.6"/>
<text transform="translate(52.97 564.91) scale(1.07 1)" class="yl">30</text>
<path d="M53.97 584.3H58.37" stroke="#0a0a0a" stroke-width="1.6"/>
<text transform="translate(52.97 588.27) scale(1.07 1)" class="yl">15</text>
<path d="M53.97 607.06H58.37" stroke="#0a0a0a" stroke-width="1.6"/>
<text transform="translate(52.97 611.04) scale(1.07 1)" class="yl">0</text>
<path d="M64.88 607.06V610.06M78.17 607.06V610.06M91.46 607.06V610.06M104.76 607.06V610.06M118.05 607.06V610.06M131.34 607.06V610.06M144.63 607.06V610.06M157.92 607.06V610.06M171.22 607.06V610.06M184.51 607.06V610.06M197.8 607.06V610.06M211.09 607.06V610.06M224.38 607.06V610.06M237.68 607.06V610.06M250.97 607.06V610.06" stroke="#0a0a0a" stroke-width="1.2" fill="none"/>
<text transform="translate(64.88 595.91) scale(1.0 1)" class="ls">d</text>
<text transform="translate(78.17 595.91) scale(1.0 1)" class="ls">c</text>
<text transform="translate(91.46 563.87) scale(1.0 1)" class="ls">a</text>
<text transform="translate(104.76 597.25) scale(1.0 1)" class="ls">e</text>
<text transform="translate(118.05 586.56) scale(1.0 1)" class="ls">b</text>
<text transform="translate(131.34 595.91) scale(1.0 1)" class="ln">e</text>
<text transform="translate(144.63 593.24) scale(1.0 1)" class="ln">c</text>
<text transform="translate(157.92 574.88) scale(1.0 1)" class="ln">b</text>
<text transform="translate(171.22 595.91) scale(1.0 1)" class="ln">d</text>
<text transform="translate(184.51 519.14) scale(1.0 1)" class="ln">a</text>
<text transform="translate(197.8 580.56) scale(1.0 1)" class="ln">c</text>
<text transform="translate(211.09 577.22) scale(1.0 1)" class="ln">b</text>
<text transform="translate(224.38 512.46) scale(1.0 1)" class="ln">a</text>
<text transform="translate(237.68 591.57) scale(1.0 1)" class="ln">e</text>
<text transform="translate(250.97 584.73) scale(1.0 1)" class="ln">d</text>
<text transform="translate(65.05 505.32) scale(1.05 1)" class="ts">MYB10</text>
</g>
<g id="B2">
<path d="M294.17 606.66V604.99Q294.17 603.49 295.67 603.49H302.37Q303.87 603.49 303.87 604.99V606.66Z" fill="#050505"/>
<path d="M307.46 606.66V604.66Q307.46 603.16 308.96 603.16H315.66Q317.16 603.16 317.16 604.66V606.66Z" fill="#050505"/>
<path d="M320.75 606.66V579.96Q320.75 578.46 322.25 578.46H328.95Q330.45 578.46 330.45 579.96V606.66Z" fill="#050505"/>
<path d="M334.04 606.66V603.99Q334.04 602.49 335.54 602.49H342.24Q343.74 602.49 343.74 603.99V606.66Z" fill="#050505"/>
<path d="M347.34 606.66V559.26Q347.34 557.76 348.84 557.76H355.54Q357.04 557.76 357.04 559.26V606.66Z" fill="#050505"/>
<path d="M352.19 558.26V556.76M348.49 557.26H355.89" stroke="#0a0a0a" stroke-width="1.4" fill="none"/>
<rect x="361.58" y="602.57" width="7.8" height="4.09" fill="#a4acab" stroke="#0a0a0a" stroke-width="1.5"/>
<rect x="374.87" y="599.9" width="7.8" height="6.76" fill="#a4acab" stroke="#0a0a0a" stroke-width="1.5"/>
<rect x="388.16" y="516.79" width="7.8" height="89.87" fill="#a4acab" stroke="#0a0a0a" stroke-width="1.5"/>
<path d="M392.06 516.54V513.7M388.36 514.2H395.76" stroke="#0a0a0a" stroke-width="1.4" fill="none"/>
<path d="M392.06 516.04V518.37M388.36 518.37H395.76" stroke="#0a0a0a" stroke-width="1" fill="none"/>
<rect x="401.45" y="605.91" width="7.8" height="0.75" fill="#a4acab" stroke="#0a0a0a" stroke-width="1.5"/>
<rect x="414.74" y="542.82" width="7.8" height="63.84" fill="#a4acab" stroke="#0a0a0a" stroke-width="1.5"/>
<rect x="428.04" y="605.91" width="7.8" height="0.75" fill="#fff" stroke="#0a0a0a" stroke-width="1.5"/>
<rect x="441.33" y="595.9" width="7.8" height="10.77" fill="#fff" stroke="#0a0a0a" stroke-width="1.5"/>
<rect x="454.62" y="569.53" width="7.8" height="37.13" fill="#fff" stroke="#0a0a0a" stroke-width="1.5"/>
<rect x="453.97" y="567.44" width="9.1" height="3.14" rx="1.2" fill="#0a0a0a"/>
<rect x="467.91" y="605.58" width="7.8" height="1.09" fill="#fff" stroke="#0a0a0a" stroke-width="1.5"/>
<rect x="481.2" y="591.22" width="7.8" height="15.44" fill="#fff" stroke="#0a0a0a" stroke-width="1.5"/>
<rect x="480.55" y="589.8" width="9.1" height="3.1" rx="1.2" fill="#0a0a0a"/>
<path d="M291.91 490.03V607.46M291.11 606.66H492.55" stroke="#0a0a0a" stroke-width="1.6" fill="none"/>
<path d="M287.51 490.83H291.91" stroke="#0a0a0a" stroke-width="1.6"/>
<text transform="translate(285.91 494.81) scale(1.07 1)" class="yl">150</text>
<path d="M287.51 514.2H291.91" stroke="#0a0a0a" stroke-width="1.6"/>
<text transform="translate(285.91 518.18) scale(1.07 1)" class="yl">120</text>
<path d="M287.51 537.23H291.91" stroke="#0a0a0a" stroke-width="1.6"/>
<text transform="translate(285.91 541.21) scale(1.07 1)" class="yl">90</text>
<path d="M287.51 560.43H291.91" stroke="#0a0a0a" stroke-width="1.6"/>
<text transform="translate(285.91 564.41) scale(1.07 1)" class="yl">60</text>
<path d="M287.51 583.69H291.91" stroke="#0a0a0a" stroke-width="1.6"/>
<text transform="translate(285.91 587.67) scale(1.07 1)" class="yl">30</text>
<path d="M287.51 606.66H291.91" stroke="#0a0a0a" stroke-width="1.6"/>
<text transform="translate(285.91 610.64) scale(1.07 1)" class="yl">0</text>
<path d="M299.02 606.66V609.66M312.31 606.66V609.66M325.6 606.66V609.66M338.89 606.66V609.66M352.19 606.66V609.66M365.48 606.66V609.66M378.77 606.66V609.66M392.06 606.66V609.66M405.35 606.66V609.66M418.64 606.66V609.66M431.94 606.66V609.66M445.23 606.66V609.66M458.52 606.66V609.66M471.81 606.66V609.66M485.1 606.66V609.66" stroke="#0a0a0a" stroke-width="1.2" fill="none"/>
<text transform="translate(299.02 596.58) scale(1.0 1)" class="ls">e</text>
<text transform="translate(312.31 596.58) scale(1.0 1)" class="ls">d</text>
<text transform="translate(325.6 570.54) scale(1.0 1)" class="ls">b</text>
<text transform="translate(338.89 595.91) scale(1.0 1)" class="ls">c</text>
<text transform="translate(352.19 549.85) scale(1.0 1)" class="ls">a</text>
<text transform="translate(365.48 595.91) scale(1.0 1)" class="ln">d</text>
<text transform="translate(378.77 593.24) scale(1.0 1)" class="ln">c</text>
<text transform="translate(392.06 509.79) scale(1.0 1)" class="ln">a</text>
<text transform="translate(405.35 599.25) scale(1.0 1)" class="ln">e</text>
<text transform="translate(418.64 535.83) scale(1.0 1)" class="ln">b</text>
<text transform="translate(431.94 599.25) scale(1.0 1)" class="ln">d</text>
<text transform="translate(445.23 589.23) scale(1.0 1)" class="ln">c</text>
<text transform="translate(458.52 562.36) scale(1.0 1)" class="ln">a</text>
<text transform="translate(471.81 598.75) scale(1.0 1)" class="ln">d</text>
<text transform="translate(485.1 584.39) scale(1.0 1)" class="ln">b</text>
<text transform="translate(298.05 505.49) scale(1.05 1)" class="ts">CHS</text>
</g>
<g id="B3">
<path d="M527.48 606.66V606.33Q527.48 604.83 528.98 604.83H535.68Q537.18 604.83 537.18 606.33V606.66Z" fill="#050505"/>
<path d="M540.78 606.66V600.65Q540.78 599.15 542.28 599.15H548.98Q550.48 599.15 550.48 600.65V606.66Z" fill="#050505"/>
<path d="M554.09 606.66V581.62Q554.09 580.12 555.59 580.12H562.29Q563.79 580.12 563.79 581.62V606.66Z" fill="#050505"/>
<path d="M567.39 606.66V600.65Q567.39 599.15 568.89 599.15H575.59Q577.09 599.15 577.09 600.65V606.66Z" fill="#050505"/>
<path d="M580.69 606.66V569.27Q580.69 567.77 582.19 567.77H588.89Q590.39 567.77 590.39 569.27V606.66Z" fill="#050505"/>
<rect x="594.95" y="601.24" width="7.8" height="5.42" fill="#a4acab" stroke="#0a0a0a" stroke-width="1.5"/>
<rect x="608.25" y="591.89" width="7.8" height="14.77" fill="#a4acab" stroke="#0a0a0a" stroke-width="1.5"/>
<rect x="621.56" y="523.46" width="7.8" height="83.2" fill="#a4acab" stroke="#0a0a0a" stroke-width="1.5"/>
<rect x="620.91" y="521.38" width="9.1" height="3.14" rx="1.2" fill="#0a0a0a"/>
<rect x="634.86" y="604.57" width="7.8" height="2.09" fill="#a4acab" stroke="#0a0a0a" stroke-width="1.5"/>
<rect x="648.16" y="534.14" width="7.8" height="72.52" fill="#a4acab" stroke="#0a0a0a" stroke-width="1.5"/>
<rect x="647.51" y="532.73" width="9.1" height="3.1" rx="1.2" fill="#0a0a0a"/>
<path d="M652.06 533.89V531.06M648.36 531.56H655.76" stroke="#0a0a0a" stroke-width="1.4" fill="none"/>
<path d="M652.06 533.39V535.73M648.36 535.73H655.76" stroke="#0a0a0a" stroke-width="1" fill="none"/>
<rect x="661.47" y="602.9" width="7.8" height="3.76" fill="#fff" stroke="#0a0a0a" stroke-width="1.5"/>
<rect x="674.77" y="594.56" width="7.8" height="12.1" fill="#fff" stroke="#0a0a0a" stroke-width="1.5"/>
<rect x="688.08" y="559.51" width="7.8" height="47.15" fill="#fff" stroke="#0a0a0a" stroke-width="1.5"/>
<rect x="687.43" y="557.43" width="9.1" height="3.14" rx="1.2" fill="#0a0a0a"/>
<rect x="701.38" y="600.57" width="7.8" height="6.09" fill="#fff" stroke="#0a0a0a" stroke-width="1.5"/>
<rect x="714.68" y="570.86" width="7.8" height="35.8" fill="#fff" stroke="#0a0a0a" stroke-width="1.5"/>
<rect x="714.03" y="568.78" width="9.1" height="3.14" rx="1.2" fill="#0a0a0a"/>
<path d="M524.38 490.03V607.46M523.58 606.66H726.03" stroke="#0a0a0a" stroke-width="1.6" fill="none"/>
<path d="M519.98 490.83H524.38" stroke="#0a0a0a" stroke-width="1.6"/>
<text transform="translate(519.88 494.81) scale(1.07 1)" class="yl">75</text>
<path d="M519.98 514.2H524.38" stroke="#0a0a0a" stroke-width="1.6"/>
<text transform="translate(519.88 518.18) scale(1.07 1)" class="yl">60</text>
<path d="M519.98 537.23H524.38" stroke="#0a0a0a" stroke-width="1.6"/>
<text transform="translate(519.88 541.21) scale(1.07 1)" class="yl">45</text>
<path d="M519.98 560.43H524.38" stroke="#0a0a0a" stroke-width="1.6"/>
<text transform="translate(519.88 564.41) scale(1.07 1)" class="yl">30</text>
<path d="M519.98 583.96H524.38" stroke="#0a0a0a" stroke-width="1.6"/>
<text transform="translate(519.88 587.94) scale(1.07 1)" class="yl">15</text>
<path d="M519.98 606.66H524.38" stroke="#0a0a0a" stroke-width="1.6"/>
<text transform="translate(519.88 610.64) scale(1.07 1)" class="yl">0</text>
<path d="M532.33 606.66V609.66M545.63 606.66V609.66M558.94 606.66V609.66M572.24 606.66V609.66M585.54 606.66V609.66M598.85 606.66V609.66M612.15 606.66V609.66M625.46 606.66V609.66M638.76 606.66V609.66M652.06 606.66V609.66M665.37 606.66V609.66M678.67 606.66V609.66M691.98 606.66V609.66M705.28 606.66V609.66M718.58 606.66V609.66" stroke="#0a0a0a" stroke-width="1.2" fill="none"/>
<text transform="translate(532.33 598.25) scale(1.0 1)" class="ls">d</text>
<text transform="translate(545.63 593.24) scale(1.0 1)" class="ls">c</text>
<text transform="translate(558.94 573.88) scale(1.0 1)" class="ls">b</text>
<text transform="translate(572.24 593.24) scale(1.0 1)" class="ls">c</text>
<text transform="translate(585.54 560.86) scale(1.0 1)" class="ls">a</text>
<text transform="translate(598.85 594.41) scale(1.0 1)" class="ln">d</text>
<text transform="translate(612.15 584.9) scale(1.0 1)" class="ln">c</text>
<text transform="translate(625.46 515.8) scale(1.0 1)" class="ln">a</text>
<text transform="translate(638.76 597.25) scale(1.0 1)" class="ln">e</text>
<text transform="translate(652.06 526.48) scale(1.0 1)" class="ln">b</text>
<text transform="translate(665.37 595.91) scale(1.0 1)" class="ln">e</text>
<text transform="translate(678.67 587.23) scale(1.0 1)" class="ln">c</text>
<text transform="translate(691.98 551.52) scale(1.0 1)" class="ln">a</text>
<text transform="translate(705.28 593.24) scale(1.0 1)" class="ln">d</text>
<text transform="translate(718.58 563.2) scale(1.0 1)" class="ln">b</text>
<text transform="translate(532.06 505.49) scale(0.975 1)" class="ts">F3H</text>
</g>
<g id="B4">
<path d="M60.03 753.36V750.32Q60.03 748.82 61.53 748.82H68.23Q69.73 748.82 69.73 750.32V753.36Z" fill="#050505"/>
<path d="M73.32 753.36V746.98Q73.32 745.48 74.82 745.48H81.52Q83.02 745.48 83.02 746.98V753.36Z" fill="#050505"/>
<path d="M86.61 753.36V702.26Q86.61 700.76 88.11 700.76H94.81Q96.31 700.76 96.31 702.26V753.36Z" fill="#050505"/>
<path d="M99.91 753.36V743.65Q99.91 742.15 101.41 742.15H108.11Q109.61 742.15 109.61 743.65V753.36Z" fill="#050505"/>
<path d="M113.2 753.36V674.55Q113.2 673.05 114.7 673.05H121.4Q122.9 673.05 122.9 674.55V753.36Z" fill="#050505"/>
<rect x="127.44" y="742.9" width="7.8" height="10.46" fill="#a4acab" stroke="#0a0a0a" stroke-width="1.5"/>
<rect x="140.73" y="728.88" width="7.8" height="24.48" fill="#a4acab" stroke="#0a0a0a" stroke-width="1.5"/>
<rect x="154.02" y="693.83" width="7.8" height="59.53" fill="#a4acab" stroke="#0a0a0a" stroke-width="1.5"/>
<rect x="153.37" y="692.08" width="9.1" height="3.1" rx="1.2" fill="#0a0a0a"/>
<rect x="167.32" y="747.9" width="7.8" height="5.46" fill="#a4acab" stroke="#0a0a0a" stroke-width="1.5"/>
<rect x="180.61" y="693.16" width="7.8" height="60.2" fill="#a4acab" stroke="#0a0a0a" stroke-width="1.5"/>
<rect x="179.96" y="691.41" width="9.1" height="3.1" rx="1.2" fill="#0a0a0a"/>
<rect x="193.9" y="748.57" width="7.8" height="4.79" fill="#fff" stroke="#0a0a0a" stroke-width="1.5"/>
<rect x="207.19" y="745.9" width="7.8" height="7.46" fill="#fff" stroke="#0a0a0a" stroke-width="1.5"/>
<rect x="220.48" y="719.86" width="7.8" height="33.5" fill="#fff" stroke="#0a0a0a" stroke-width="1.5"/>
<rect x="233.78" y="746.9" width="7.8" height="6.46" fill="#fff" stroke="#0a0a0a" stroke-width="1.5"/>
<rect x="247.07" y="737.89" width="7.8" height="15.47" fill="#fff" stroke="#0a0a0a" stroke-width="1.5"/>
<path d="M58.37 635.53V754.16M57.57 753.36H258.42" stroke="#0a0a0a" stroke-width="1.6" fill="none"/>
<path d="M53.97 636.33H58.37" stroke="#0a0a0a" stroke-width="1.6"/>
<text transform="translate(52.97 640.31) scale(1.07 1)" class="yl">40</text>
<path d="M53.97 665.71H58.37" stroke="#0a0a0a" stroke-width="1.6"/>
<text transform="translate(52.97 669.68) scale(1.07 1)" class="yl">30</text>
<path d="M53.97 694.75H58.37" stroke="#0a0a0a" stroke-width="1.6"/>
<text transform="translate(52.97 698.72) scale(1.07 1)" class="yl">20</text>
<path d="M53.97 724.12H58.37" stroke="#0a0a0a" stroke-width="1.6"/>
<text transform="translate(52.97 728.1) scale(1.07 1)" class="yl">10</text>
<path d="M53.97 753.36H58.37" stroke="#0a0a0a" stroke-width="1.6"/>
<text transform="translate(52.97 757.34) scale(1.07 1)" class="yl">0</text>
<path d="M64.88 753.36V756.36M78.17 753.36V756.36M91.46 753.36V756.36M104.76 753.36V756.36M118.05 753.36V756.36M131.34 753.36V756.36M144.63 753.36V756.36M157.92 753.36V756.36M171.22 753.36V756.36M184.51 753.36V756.36M197.8 753.36V756.36M211.09 753.36V756.36M224.38 753.36V756.36M237.68 753.36V756.36M250.97 753.36V756.36" stroke="#0a0a0a" stroke-width="1.2" fill="none"/>
<text transform="translate(64.88 742.58) scale(1.0 1)" class="ls">e</text>
<text transform="translate(78.17 738.57) scale(1.0 1)" class="ls">d</text>
<text transform="translate(91.46 694.18) scale(1.0 1)" class="ls">b</text>
<text transform="translate(104.76 735.23) scale(1.0 1)" class="ls">c</text>
<text transform="translate(118.05 666.81) scale(1.0 1)" class="ls">a</text>
<text transform="translate(131.34 735.23) scale(1.0 1)" class="ln">d</text>
<text transform="translate(144.63 721.88) scale(1.0 1)" class="ln">c</text>
<text transform="translate(157.92 686.83) scale(1.0 1)" class="ln">b</text>
<text transform="translate(171.22 741.91) scale(1.0 1)" class="ln">e</text>
<text transform="translate(184.51 686.17) scale(1.0 1)" class="ln">a</text>
<text transform="translate(197.8 742.91) scale(1.0 1)" class="ln">e</text>
<text transform="translate(211.09 739.57) scale(1.0 1)" class="ln">c</text>
<text transform="translate(224.38 712.87) scale(1.0 1)" class="ln">a</text>
<text transform="translate(237.68 740.24) scale(1.0 1)" class="ln">d</text>
<text transform="translate(250.97 730.89) scale(1.0 1)" class="ln">b</text>
<text transform="translate(65.72 650.79) scale(0.985 1)" class="ts">F3&#39;H</text>
</g>
<g id="B5">
<path d="M293.62 753.23V750.65Q293.62 749.15 295.12 749.15H301.82Q303.32 749.15 303.32 750.65V753.23Z" fill="#050505"/>
<path d="M306.97 753.23V749.32Q306.97 747.82 308.47 747.82H315.17Q316.67 747.82 316.67 749.32V753.23Z" fill="#050505"/>
<path d="M320.32 753.23V721.95Q320.32 720.45 321.82 720.45H328.52Q330.02 720.45 330.02 721.95V753.23Z" fill="#050505"/>
<path d="M333.67 753.23V750.65Q333.67 749.15 335.17 749.15H341.87Q343.37 749.15 343.37 750.65V753.23Z" fill="#050505"/>
<path d="M347.02 753.23V686.23Q347.02 684.73 348.52 684.73H355.22Q356.72 684.73 356.72 686.23V753.23Z" fill="#050505"/>
<rect x="361.32" y="742.23" width="7.8" height="11" fill="#a4acab" stroke="#0a0a0a" stroke-width="1.5"/>
<rect x="374.67" y="743.23" width="7.8" height="10" fill="#a4acab" stroke="#0a0a0a" stroke-width="1.5"/>
<rect x="388.02" y="654.78" width="7.8" height="98.45" fill="#a4acab" stroke="#0a0a0a" stroke-width="1.5"/>
<rect x="387.37" y="654.03" width="9.1" height="3.1" rx="1.2" fill="#0a0a0a"/>
<path d="M391.92 654.53V652.02M388.22 652.52H395.62" stroke="#0a0a0a" stroke-width="1.4" fill="none"/>
<path d="M391.92 654.03V656.03M388.22 656.03H395.62" stroke="#0a0a0a" stroke-width="1" fill="none"/>
<rect x="401.37" y="750.91" width="7.8" height="2.32" fill="#a4acab" stroke="#0a0a0a" stroke-width="1.5"/>
<rect x="414.72" y="651.44" width="7.8" height="101.79" fill="#a4acab" stroke="#0a0a0a" stroke-width="1.5"/>
<rect x="414.07" y="649.69" width="9.1" height="3.1" rx="1.2" fill="#0a0a0a"/>
<rect x="428.07" y="749.57" width="7.8" height="3.65" fill="#fff" stroke="#0a0a0a" stroke-width="1.5"/>
<rect x="441.42" y="736.22" width="7.8" height="17.01" fill="#fff" stroke="#0a0a0a" stroke-width="1.5"/>
<rect x="454.77" y="702.84" width="7.8" height="50.38" fill="#fff" stroke="#0a0a0a" stroke-width="1.5"/>
<rect x="454.12" y="701.42" width="9.1" height="3.1" rx="1.2" fill="#0a0a0a"/>
<rect x="468.12" y="746.9" width="7.8" height="6.32" fill="#fff" stroke="#0a0a0a" stroke-width="1.5"/>
<rect x="481.47" y="725.87" width="7.8" height="27.35" fill="#fff" stroke="#0a0a0a" stroke-width="1.5"/>
<path d="M292.01 635.43V754.03M291.21 753.23H492.82" stroke="#0a0a0a" stroke-width="1.6" fill="none"/>
<path d="M287.61 636.23H292.01" stroke="#0a0a0a" stroke-width="1.6"/>
<text transform="translate(286.31 640.21) scale(1.07 1)" class="yl">60</text>
<path d="M287.61 659.6H292.01" stroke="#0a0a0a" stroke-width="1.6"/>
<text transform="translate(286.31 663.58) scale(1.07 1)" class="yl">48</text>
<path d="M287.61 682.96H292.01" stroke="#0a0a0a" stroke-width="1.6"/>
<text transform="translate(286.31 686.94) scale(1.07 1)" class="yl">36</text>
<path d="M287.61 706.33H292.01" stroke="#0a0a0a" stroke-width="1.6"/>
<text transform="translate(286.31 710.31) scale(1.07 1)" class="yl">24</text>
<path d="M287.61 729.69H292.01" stroke="#0a0a0a" stroke-width="1.6"/>
<text transform="translate(286.31 733.67) scale(1.07 1)" class="yl">12</text>
<path d="M287.61 753.23H292.01" stroke="#0a0a0a" stroke-width="1.6"/>
<text transform="translate(286.31 757.2) scale(1.07 1)" class="yl">0</text>
<path d="M298.47 753.23V756.23M311.82 753.23V756.23M325.17 753.23V756.23M338.52 753.23V756.23M351.87 753.23V756.23M365.22 753.23V756.23M378.57 753.23V756.23M391.92 753.23V756.23M405.27 753.23V756.23M418.62 753.23V756.23M431.97 753.23V756.23M445.32 753.23V756.23M458.67 753.23V756.23M472.02 753.23V756.23M485.37 753.23V756.23" stroke="#0a0a0a" stroke-width="1.2" fill="none"/>
<text transform="translate(298.47 769.89) scale(1.0 1)" class="xl">1</text>
<text transform="translate(311.82 769.89) scale(1.0 1)" class="xl">2</text>
<text transform="translate(325.17 769.89) scale(1.0 1)" class="xl">3</text>
<text transform="translate(338.52 769.89) scale(1.0 1)" class="xl">4</text>
<text transform="translate(351.87 769.89) scale(1.0 1)" class="xl">5</text>
<text transform="translate(365.22 769.89) scale(1.0 1)" class="xl">1</text>
<text transform="translate(378.57 769.89) scale(1.0 1)" class="xl">2</text>
<text transform="translate(391.92 769.89) scale(1.0 1)" class="xl">3</text>
<text transform="translate(405.27 769.89) scale(1.0 1)" class="xl">4</text>
<text transform="translate(418.62 769.89) scale(1.0 1)" class="xl">5</text>
<text transform="translate(431.97 769.89) scale(1.0 1)" class="xl">1</text>
<text transform="translate(445.32 769.89) scale(1.0 1)" class="xl">2</text>
<text transform="translate(458.67 769.89) scale(1.0 1)" class="xl">3</text>
<text transform="translate(472.02 769.89) scale(1.0 1)" class="xl">4</text>
<text transform="translate(485.37 769.89) scale(1.0 1)" class="xl">5</text>
<text transform="translate(298.47 741.58) scale(1.0 1)" class="ls">d</text>
<text transform="translate(311.82 740.91) scale(1.0 1)" class="ls">c</text>
<text transform="translate(325.17 713.2) scale(1.0 1)" class="ls">b</text>
<text transform="translate(338.52 741.58) scale(1.0 1)" class="ls">d</text>
<text transform="translate(351.87 678.49) scale(1.0 1)" class="ls">a</text>
<text transform="translate(365.22 737.57) scale(1.0 1)" class="ln">c</text>
<text transform="translate(378.57 737.57) scale(1.0 1)" class="ln">c</text>
<text transform="translate(391.92 650.45) scale(1.0 1)" class="ln">b</text>
<text transform="translate(405.27 746.25) scale(1.0 1)" class="ln">d</text>
<text transform="translate(418.62 646.78) scale(1.0 1)" class="ln">a</text>
<text transform="translate(431.97 742.91) scale(1.0 1)" class="ln">e</text>
<text transform="translate(445.32 729.56) scale(1.0 1)" class="ln">c</text>
<text transform="translate(458.67 696.18) scale(1.0 1)" class="ln">a</text>
<text transform="translate(472.02 741.24) scale(1.0 1)" class="ln">d</text>
<text transform="translate(485.37 717.54) scale(1.0 1)" class="ln">b</text>
<text transform="translate(298.05 650.79) scale(1.05 1)" class="ts">DFR</text>
</g>
<g id="B6">
<path d="M527.48 752.83V751.99Q527.48 750.49 528.98 750.49H535.68Q537.18 750.49 537.18 751.99V752.83Z" fill="#050505"/>
<path d="M540.78 752.83V750.32Q540.78 748.82 542.28 748.82H548.98Q550.48 748.82 550.48 750.32V752.83Z" fill="#050505"/>
<path d="M554.09 752.83V741.31Q554.09 739.81 555.59 739.81H562.29Q563.79 739.81 563.79 741.31V752.83Z" fill="#050505"/>
<path d="M567.39 752.83V749.65Q567.39 748.15 568.89 748.15H575.59Q577.09 748.15 577.09 749.65V752.83Z" fill="#050505"/>
<path d="M580.69 752.83V691.91Q580.69 690.41 582.19 690.41H588.89Q590.39 690.41 590.39 691.91V752.83Z" fill="#050505"/>
<rect x="594.95" y="747.57" width="7.8" height="5.26" fill="#a4acab" stroke="#0a0a0a" stroke-width="1.5"/>
<rect x="608.25" y="749.24" width="7.8" height="3.59" fill="#a4acab" stroke="#0a0a0a" stroke-width="1.5"/>
<rect x="621.56" y="661.12" width="7.8" height="91.71" fill="#a4acab" stroke="#0a0a0a" stroke-width="1.5"/>
<path d="M625.46 660.87V657.03M621.76 657.53H629.16" stroke="#0a0a0a" stroke-width="1.4" fill="none"/>
<path d="M625.46 660.37V663.7M621.76 663.7H629.16" stroke="#0a0a0a" stroke-width="1" fill="none"/>
<rect x="634.86" y="751.91" width="7.8" height="0.92" fill="#a4acab" stroke="#0a0a0a" stroke-width="1.5"/>
<rect x="648.16" y="679.81" width="7.8" height="73.02" fill="#a4acab" stroke="#0a0a0a" stroke-width="1.5"/>
<rect x="647.51" y="678.06" width="9.1" height="3.1" rx="1.2" fill="#0a0a0a"/>
<rect x="661.47" y="750.57" width="7.8" height="2.25" fill="#fff" stroke="#0a0a0a" stroke-width="1.5"/>
<rect x="674.77" y="736.89" width="7.8" height="15.94" fill="#fff" stroke="#0a0a0a" stroke-width="1.5"/>
<rect x="688.08" y="716.86" width="7.8" height="35.97" fill="#fff" stroke="#0a0a0a" stroke-width="1.5"/>
<rect x="701.38" y="750.91" width="7.8" height="1.92" fill="#fff" stroke="#0a0a0a" stroke-width="1.5"/>
<rect x="714.68" y="733.88" width="7.8" height="18.94" fill="#fff" stroke="#0a0a0a" stroke-width="1.5"/>
<path d="M524.95 635.33V753.63M524.15 752.83H726.03" stroke="#0a0a0a" stroke-width="1.6" fill="none"/>
<path d="M520.55 636.13H524.95" stroke="#0a0a0a" stroke-width="1.6"/>
<text transform="translate(520.15 640.11) scale(1.07 1)" class="yl">250</text>
<path d="M520.55 659.5H524.95" stroke="#0a0a0a" stroke-width="1.6"/>
<text transform="translate(520.15 663.48) scale(1.07 1)" class="yl">200</text>
<path d="M520.55 682.86H524.95" stroke="#0a0a0a" stroke-width="1.6"/>
<text transform="translate(520.15 686.84) scale(1.07 1)" class="yl">150</text>
<path d="M520.55 706.23H524.95" stroke="#0a0a0a" stroke-width="1.6"/>
<text transform="translate(520.15 710.21) scale(1.07 1)" class="yl">100</text>
<path d="M520.55 729.59H524.95" stroke="#0a0a0a" stroke-width="1.6"/>
<text transform="translate(520.15 733.57) scale(1.07 1)" class="yl">50</text>
<path d="M520.55 752.83H524.95" stroke="#0a0a0a" stroke-width="1.6"/>
<text transform="translate(520.15 756.8) scale(1.07 1)" class="yl">0</text>
<path d="M532.33 752.83V755.83M545.63 752.83V755.83M558.94 752.83V755.83M572.24 752.83V755.83M585.54 752.83V755.83M598.85 752.83V755.83M612.15 752.83V755.83M625.46 752.83V755.83M638.76 752.83V755.83M652.06 752.83V755.83M665.37 752.83V755.83M678.67 752.83V755.83M691.98 752.83V755.83M705.28 752.83V755.83M718.58 752.83V755.83" stroke="#0a0a0a" stroke-width="1.2" fill="none"/>
<text transform="translate(532.33 769.89) scale(1.0 1)" class="xl">1</text>
<text transform="translate(545.63 769.89) scale(1.0 1)" class="xl">2</text>
<text transform="translate(558.94 769.89) scale(1.0 1)" class="xl">3</text>
<text transform="translate(572.24 769.89) scale(1.0 1)" class="xl">4</text>
<text transform="translate(585.54 769.89) scale(1.0 1)" class="xl">5</text>
<text transform="translate(598.85 769.89) scale(1.0 1)" class="xl">1</text>
<text transform="translate(612.15 769.89) scale(1.0 1)" class="xl">2</text>
<text transform="translate(625.46 769.89) scale(1.0 1)" class="xl">3</text>
<text transform="translate(638.76 769.89) scale(1.0 1)" class="xl">4</text>
<text transform="translate(652.06 769.89) scale(1.0 1)" class="xl">5</text>
<text transform="translate(665.37 769.89) scale(1.0 1)" class="xl">1</text>
<text transform="translate(678.67 769.89) scale(1.0 1)" class="xl">2</text>
<text transform="translate(691.98 769.89) scale(1.0 1)" class="xl">3</text>
<text transform="translate(705.28 769.89) scale(1.0 1)" class="xl">4</text>
<text transform="translate(718.58 769.89) scale(1.0 1)" class="xl">5</text>
<text transform="translate(532.33 743.14) scale(1.0 1)" class="ls">d</text>
<text transform="translate(545.63 741.74) scale(1.0 1)" class="ls">c</text>
<text transform="translate(558.94 732.56) scale(1.0 1)" class="ls">b</text>
<text transform="translate(572.24 741.74) scale(1.0 1)" class="ls">c</text>
<text transform="translate(585.54 685.16) scale(1.0 1)" class="ls">a</text>
<text transform="translate(598.85 740.91) scale(1.0 1)" class="ln">c</text>
<text transform="translate(612.15 741.91) scale(1.0 1)" class="ln">d</text>
<text transform="translate(625.46 651.79) scale(1.0 1)" class="ln">a</text>
<text transform="translate(638.76 744.25) scale(1.0 1)" class="ln">e</text>
<text transform="translate(652.06 673.48) scale(1.0 1)" class="ln">b</text>
<text transform="translate(665.37 744.25) scale(1.0 1)" class="ln">d</text>
<text transform="translate(678.67 730.89) scale(1.0 1)" class="ln">c</text>
<text transform="translate(691.98 710.2) scale(1.0 1)" class="ln">a</text>
<text transform="translate(705.28 744.25) scale(1.0 1)" class="ln">d</text>
<text transform="translate(718.58 726.89) scale(1.0 1)" class="ln">b</text>
<text transform="translate(531.73 650.79) scale(1.05 1)" class="ts">ANS</text>
</g>
<g id="B7">
<path d="M60.03 899.22V897.65Q60.03 896.15 61.53 896.15H68.23Q69.73 896.15 69.73 897.65V899.22Z" fill="#050505"/>
<path d="M73.32 899.22V897.65Q73.32 896.15 74.82 896.15H81.52Q83.02 896.15 83.02 897.65V899.22Z" fill="#050505"/>
<path d="M86.61 899.22V855.26Q86.61 853.76 88.11 853.76H94.81Q96.31 853.76 96.31 855.26V899.22Z" fill="#050505"/>
<path d="M99.91 899.22V895.65Q99.91 894.15 101.41 894.15H108.11Q109.61 894.15 109.61 895.65V899.22Z" fill="#050505"/>
<path d="M113.2 899.22V875.29Q113.2 873.79 114.7 873.79H121.4Q122.9 873.79 122.9 875.29V899.22Z" fill="#050505"/>
<rect x="127.44" y="888.23" width="7.8" height="11" fill="#a4acab" stroke="#0a0a0a" stroke-width="1.5"/>
<rect x="140.73" y="891.56" width="7.8" height="7.66" fill="#a4acab" stroke="#0a0a0a" stroke-width="1.5"/>
<rect x="154.02" y="880.88" width="7.8" height="18.34" fill="#a4acab" stroke="#0a0a0a" stroke-width="1.5"/>
<rect x="167.32" y="892.56" width="7.8" height="6.66" fill="#a4acab" stroke="#0a0a0a" stroke-width="1.5"/>
<rect x="180.61" y="880.88" width="7.8" height="18.34" fill="#a4acab" stroke="#0a0a0a" stroke-width="1.5"/>
<rect x="193.9" y="894.9" width="7.8" height="4.32" fill="#fff" stroke="#0a0a0a" stroke-width="1.5"/>
<rect x="207.19" y="876.21" width="7.8" height="23.01" fill="#fff" stroke="#0a0a0a" stroke-width="1.5"/>
<rect x="220.48" y="811.79" width="7.8" height="87.44" fill="#fff" stroke="#0a0a0a" stroke-width="1.5"/>
<rect x="219.83" y="810.37" width="9.1" height="3.1" rx="1.2" fill="#0a0a0a"/>
<path d="M224.38 811.54V808.7M220.68 809.2H228.08" stroke="#0a0a0a" stroke-width="1.4" fill="none"/>
<path d="M224.38 811.04V813.37M220.68 813.37H228.08" stroke="#0a0a0a" stroke-width="1" fill="none"/>
<rect x="233.78" y="896.9" width="7.8" height="2.32" fill="#fff" stroke="#0a0a0a" stroke-width="1.5"/>
<rect x="247.07" y="856.85" width="7.8" height="42.37" fill="#fff" stroke="#0a0a0a" stroke-width="1.5"/>
<rect x="246.42" y="854.1" width="9.1" height="3.8" rx="1.2" fill="#0a0a0a"/>
<path d="M58.37 781.4V900.02M57.57 899.22H258.42" stroke="#0a0a0a" stroke-width="1.6" fill="none"/>
<path d="M53.97 782.2H58.37" stroke="#0a0a0a" stroke-width="1.6"/>
<text transform="translate(52.97 786.17) scale(1.07 1)" class="yl">75</text>
<path d="M53.97 805.56H58.37" stroke="#0a0a0a" stroke-width="1.6"/>
<text transform="translate(52.97 809.54) scale(1.07 1)" class="yl">60</text>
<path d="M53.97 828.93H58.37" stroke="#0a0a0a" stroke-width="1.6"/>
<text transform="translate(52.97 832.9) scale(1.07 1)" class="yl">45</text>
<path d="M53.97 852.29H58.37" stroke="#0a0a0a" stroke-width="1.6"/>
<text transform="translate(52.97 856.27) scale(1.07 1)" class="yl">30</text>
<path d="M53.97 875.66H58.37" stroke="#0a0a0a" stroke-width="1.6"/>
<text transform="translate(52.97 879.63) scale(1.07 1)" class="yl">15</text>
<path d="M53.97 899.22H58.37" stroke="#0a0a0a" stroke-width="1.6"/>
<text transform="translate(52.97 903.2) scale(1.07 1)" class="yl">0</text>
<path d="M64.88 899.22V902.22M78.17 899.22V902.22M91.46 899.22V902.22M104.76 899.22V902.22M118.05 899.22V902.22M131.34 899.22V902.22M144.63 899.22V902.22M157.92 899.22V902.22M171.22 899.22V902.22M184.51 899.22V902.22M197.8 899.22V902.22M211.09 899.22V902.22M224.38 899.22V902.22M237.68 899.22V902.22M250.97 899.22V902.22" stroke="#0a0a0a" stroke-width="1.2" fill="none"/>
<text transform="translate(64.88 916.22) scale(1.0 1)" class="xl">1</text>
<text transform="translate(78.17 916.22) scale(1.0 1)" class="xl">2</text>
<text transform="translate(91.46 916.22) scale(1.0 1)" class="xl">3</text>
<text transform="translate(104.76 916.22) scale(1.0 1)" class="xl">4</text>
<text transform="translate(118.05 916.22) scale(1.0 1)" class="xl">5</text>
<text transform="translate(131.34 916.22) scale(1.0 1)" class="xl">1</text>
<text transform="translate(144.63 916.22) scale(1.0 1)" class="xl">2</text>
<text transform="translate(157.92 916.22) scale(1.0 1)" class="xl">3</text>
<text transform="translate(171.22 916.22) scale(1.0 1)" class="xl">4</text>
<text transform="translate(184.51 916.22) scale(1.0 1)" class="xl">5</text>
<text transform="translate(197.8 916.22) scale(1.0 1)" class="xl">1</text>
<text transform="translate(211.09 916.22) scale(1.0 1)" class="xl">2</text>
<text transform="translate(224.38 916.22) scale(1.0 1)" class="xl">3</text>
<text transform="translate(237.68 916.22) scale(1.0 1)" class="xl">4</text>
<text transform="translate(250.97 916.22) scale(1.0 1)" class="xl">5</text>
<text transform="translate(64.88 889.24) scale(1.0 1)" class="ls">d</text>
<text transform="translate(78.17 889.24) scale(1.0 1)" class="ls">d</text>
<text transform="translate(91.46 846.52) scale(1.0 1)" class="ls">a</text>
<text transform="translate(104.76 888.57) scale(1.0 1)" class="ls">c</text>
<text transform="translate(118.05 867.38) scale(1.0 1)" class="ls">b</text>
<text transform="translate(131.34 881.56) scale(1.0 1)" class="ln">c</text>
<text transform="translate(144.63 884.23) scale(1.0 1)" class="ln">d</text>
<text transform="translate(157.92 874.22) scale(1.0 1)" class="ln">a</text>
<text transform="translate(171.22 885.57) scale(1.0 1)" class="ln">e</text>
<text transform="translate(184.51 874.22) scale(1.0 1)" class="ln">b</text>
<text transform="translate(197.8 886.74) scale(1.0 1)" class="ln">d</text>
<text transform="translate(211.09 869.88) scale(1.0 1)" class="ln">c</text>
<text transform="translate(224.38 804.13) scale(1.0 1)" class="ln">a</text>
<text transform="translate(237.68 890.91) scale(1.0 1)" class="ln">e</text>
<text transform="translate(250.97 848.85) scale(1.0 1)" class="ln">b</text>
<text transform="translate(64.05 797.82) scale(1.05 1)" class="ts">UFGT</text>
</g>
<text transform="translate(5.5 17.6) scale(1.0 1)" class="pl">A</text>
<text transform="translate(4.7 479) scale(1.0 1)" class="pl">B</text>
<text transform="translate(21.6 231.8) rotate(-90) scale(1.105 1)" class="yax" text-anchor="middle">Relative expression level</text>
<text transform="translate(21.2 690.4) rotate(-90) scale(1.095 1)" class="yax" style="font-size:17px" text-anchor="middle">Relative expression level</text>
<rect x="553" y="347" width="40" height="16.5" fill="#050505"/>
<rect x="553.7" y="385.7" width="38.8" height="15" fill="#a4acab" stroke="#0a0a0a" stroke-width="1.4"/>
<rect x="554.2" y="421.4" width="38.4" height="14.4" fill="#fff" stroke="#0a0a0a" stroke-width="1.4"/>
<text transform="translate(598.5 362) scale(1.0 1)" class="lgs">&#39;Royalty&#39;</text>
<text transform="translate(598.5 398.8) scale(0.985 1)" class="lgn">&#39;Prairifire&#39;</text>
<text transform="translate(598.8 434.3) scale(1.0 1)" class="lgs">&#39;Flame&#39;</text>
<rect x="270" y="849" width="39.5" height="15.4" fill="#050505"/>
<rect x="443.2" y="848" width="38.5" height="15" fill="#a4acab" stroke="#0a0a0a" stroke-width="1.3"/>
<rect x="592" y="848.2" width="39" height="15" fill="#fff" stroke="#0a0a0a" stroke-width="1.3"/>
<text transform="translate(314.3 862.2) scale(1.02 1)" class="lgb">Pyknotic Calli</text>
<text transform="translate(486.5 861) scale(1.02 1)" class="lgb">Media Calli</text>
<text transform="translate(636 861) scale(1.02 1)" class="lgb">Porous Calli</text>
</svg>
</body></html>
